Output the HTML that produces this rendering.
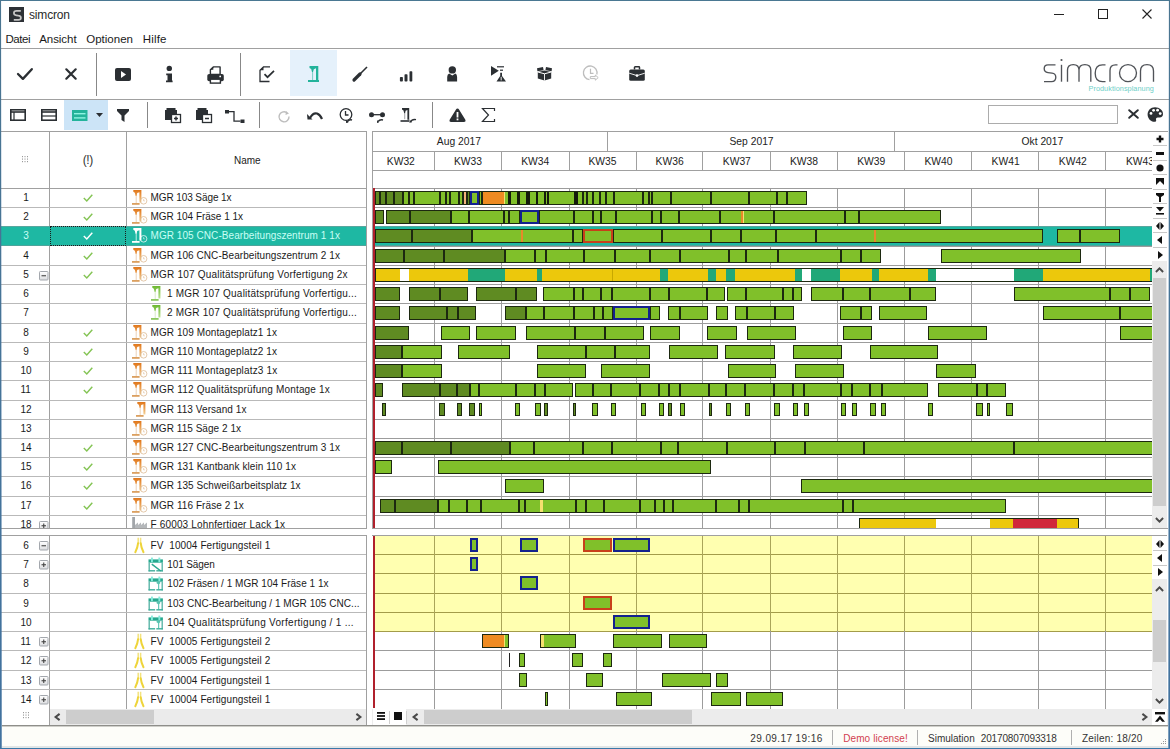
<!DOCTYPE html><html><head><meta charset="utf-8"><style>
html,body{margin:0;padding:0;}
body{width:1170px;height:749px;overflow:hidden;position:relative;background:#fff;font-family:"Liberation Sans",sans-serif;}
.t{position:absolute;white-space:nowrap;line-height:1;}
svg{overflow:visible}
</style></head><body>
<svg width="0" height="0" style="position:absolute"><defs><linearGradient id="mgo" x1="0" y1="0" x2="0" y2="1"><stop offset="0" stop-color="#e0761a"/><stop offset="0.55" stop-color="#eba255"/><stop offset="1" stop-color="#f3d49c"/></linearGradient><linearGradient id="mgg" x1="0" y1="0" x2="0" y2="1"><stop offset="0" stop-color="#6cb830"/><stop offset="1" stop-color="#b8e090"/></linearGradient></defs></svg>
<div style="position:absolute;left:9px;top:7px;width:15px;height:15px;background:#2d3136"></div>
<svg style="position:absolute;left:9px;top:7px" width="15" height="15" viewBox="0 0 15 15"><path d="M11.8 3.8H7.6Q4.9 3.8 4.9 6.1Q4.9 8.1 7.4 8.4L9.4 8.7Q11.9 9 11.9 10.9Q11.9 12.8 9.4 12.8H4.8" fill="none" stroke="#c6c6c6" stroke-width="1.7"/></svg>
<div class="t" style="left:29.00px;top:9px;font-size:12px;color:#2a2a2a;letter-spacing:-0.167px;">simcron</div>
<div style="position:absolute;left:1054px;top:14px;width:10px;height:1px;background:#222"></div>
<div style="position:absolute;left:1098px;top:9px;width:10px;height:10px;border:1px solid #222;box-sizing:border-box"></div>
<svg style="position:absolute;left:1142px;top:9px" width="10" height="10" viewBox="0 0 10 10"><path d="M0.5 0.5L9.5 9.5M9.5 0.5L0.5 9.5" stroke="#222" stroke-width="1.1"/></svg>
<div class="t" style="left:5.40px;top:33.5px;font-size:11.5px;color:#1a1a1a;letter-spacing:-0.438px;">Datei</div>
<div class="t" style="left:39.20px;top:33.5px;font-size:11.5px;color:#1a1a1a;letter-spacing:-0.053px;">Ansicht</div>
<div class="t" style="left:86.20px;top:33.5px;font-size:11.5px;color:#1a1a1a;letter-spacing:0.016px;">Optionen</div>
<div class="t" style="left:142.80px;top:33.5px;font-size:11.5px;color:#1a1a1a;letter-spacing:0.175px;">Hilfe</div>
<div style="position:absolute;left:1px;top:48px;width:1168px;height:1px;background:#a0a0a0"></div>
<div style="position:absolute;left:290px;top:50px;width:47px;height:46px;background:#e5f1fb"></div>
<div style="position:absolute;left:96px;top:53px;width:1px;height:43px;background:#888"></div>
<div style="position:absolute;left:240px;top:53px;width:1px;height:43px;background:#888"></div>
<svg style="position:absolute;left:17px;top:67px" width="16" height="14" viewBox="0 0 16 14"><path d="M1 7L5.9 11.9L14.8 2.2" fill="none" stroke="#2b2f33" stroke-width="2.3" stroke-linecap="round" stroke-linejoin="round"/></svg>
<svg style="position:absolute;left:65px;top:68px" width="12" height="12" viewBox="0 0 12 12"><path d="M1.3 1.3L10.7 10.7M10.7 1.3L1.3 10.7" fill="none" stroke="#2b2f33" stroke-width="2.2" stroke-linecap="round"/></svg>
<svg style="position:absolute;left:115px;top:68px" width="16" height="13" viewBox="0 0 16 13"><rect x="0" y="0" width="16" height="13" rx="2" fill="#2b2f33"/><path d="M6 3L11 6.5L6 10Z" fill="#fff"/></svg>
<svg style="position:absolute;left:165px;top:65px" width="9" height="18" viewBox="0 0 9 18"><circle cx="4.3" cy="3.4" r="2.7" fill="#2b2f33"/><path d="M1.2 8.5H7V15.5H7.6V17.3H1V15.5H2.5V10.2H1.2Z" fill="#2b2f33"/></svg>
<svg style="position:absolute;left:207px;top:66px" width="17" height="18" viewBox="0 0 17 18"><path d="M6.3 0.9H13.1V8.5H3.4V3.8Z" fill="#fff" stroke="#2b2f33" stroke-width="1.4" stroke-linejoin="round"/><path d="M3.4 3.8L6.3 0.9V3.8Z" fill="#2b2f33"/><rect x="0.3" y="8" width="16.5" height="7.3" rx="1.8" fill="#2b2f33"/><circle cx="13.2" cy="10.4" r="0.9" fill="#fff"/><rect x="3.4" y="13.2" width="10" height="3.9" fill="#fff" stroke="#2b2f33" stroke-width="1.4"/></svg>
<svg style="position:absolute;left:259px;top:66px" width="16" height="16" viewBox="0 0 16 16"><path d="M11 0.8H4.5L1 4.3V15.5H10.5" fill="none" stroke="#2b2f33" stroke-width="1.3"/><path d="M4.5 0.8L1 4.3H4.5Z" fill="#2b2f33"/><path d="M5.5 8.2L8.5 11.2L15 4.8" fill="none" stroke="#2b2f33" stroke-width="1.7"/></svg>
<svg style="position:absolute;left:307px;top:66px" width="13" height="16" viewBox="0 0 13 16"><path d="M2.5 0H11.3V14.5H9V2.3L6.8 3.2L6 6H5L4.2 3L2.5 2Z" fill="#23b39b"/><rect x="5" y="6" width="1.1" height="8" fill="#23b39b" opacity="0.5"/><rect x="1" y="14" width="11" height="2" fill="#23b39b"/></svg>
<svg style="position:absolute;left:352px;top:66px" width="16" height="16" viewBox="0 0 16 16"><path d="M15 1L7 9" stroke="#2b2f33" stroke-width="1.6"/><path d="M8 8L2 14" stroke="#2b2f33" stroke-width="3.2" stroke-linecap="round"/></svg>
<svg style="position:absolute;left:399px;top:71px" width="14" height="11" viewBox="0 0 14 11"><rect x="0.9" y="6" width="3" height="4.6" rx="0.8" fill="#2b2f33"/><rect x="5.5" y="3.3" width="3" height="7.3" rx="0.8" fill="#2b2f33"/><rect x="10.5" y="0.2" width="2.8" height="10.4" rx="0.8" fill="#2b2f33"/></svg>
<svg style="position:absolute;left:446px;top:65px" width="12" height="17" viewBox="0 0 12 17"><circle cx="6.3" cy="4.9" r="3.7" fill="#2b2f33"/><path d="M3.2 8.6L6.3 10.4L9.4 8.6Q11.1 9.4 11.1 12V16.6H1.2V12Q1.2 9.4 3.2 8.6Z" fill="#2b2f33"/></svg>
<svg style="position:absolute;left:490px;top:65px" width="17" height="17" viewBox="0 0 17 17"><path d="M1 1L8.8 5.8L1 10.7Z" fill="#2b2f33"/><rect x="7" y="1.2" width="7" height="1.2" fill="#2b2f33"/><rect x="10" y="4.6" width="3" height="1.2" fill="#2b2f33"/><path d="M10.2 7.8H12V11L16 16.5H6.5L10.2 11Z" fill="#2b2f33"/><rect x="10.7" y="11.8" width="0.9" height="3.6" fill="#fff"/></svg>
<svg style="position:absolute;left:537px;top:67px" width="15" height="14" viewBox="0 0 15 14"><path d="M0 1.2L6 0L6.6 3.2L0.4 4.3Z" fill="#2b2f33"/><path d="M9 0L15 1.2L14.6 4.3L8.4 3.2Z" fill="#2b2f33"/><path d="M0.8 5L7.5 3.6L14.2 5V11.6L7.5 13.6L0.8 11.6Z" fill="#2b2f33"/><path d="M0.8 5L7.5 6.8L14.2 5" fill="none" stroke="#fff" stroke-width="1"/><path d="M7.5 6.8V13.6" stroke="#fff" stroke-width="0.9"/></svg>
<svg style="position:absolute;left:583px;top:65px" width="16" height="17" viewBox="0 0 16 17"><path d="M13.8 9.5A6.8 6.8 0 1 0 6.5 14.6" fill="none" stroke="#bdbdbd" stroke-width="1.3"/><path d="M7.5 3.8V8.4H10.5" fill="none" stroke="#bdbdbd" stroke-width="1.2"/><path d="M7.3 11.6H12.3V10L15.2 12.6L12.3 15.2V13.6H7.3Z" fill="none" stroke="#bdbdbd" stroke-width="1"/></svg>
<svg style="position:absolute;left:629px;top:66px" width="16" height="15" viewBox="0 0 16 15"><path d="M5.5 3.5V1.5Q5.5 0.8 6.2 0.8H9.8Q10.5 0.8 10.5 1.5V3.5" fill="none" stroke="#2b2f33" stroke-width="1.5"/><rect x="0.2" y="3.4" width="15.6" height="11.4" rx="1.5" fill="#2b2f33"/><path d="M0.2 7.2L8 9.6L15.8 7.2" fill="none" stroke="#fff" stroke-width="0.9"/><circle cx="8" cy="9.6" r="1.3" fill="#fff"/></svg>
<svg style="position:absolute;left:1043px;top:57px" width="112" height="26" viewBox="0 0 112 26"><g fill="none" stroke="#505358" stroke-width="1.35">
<path d="M12.5 7.8H5Q1.2 7.8 1.2 11.6Q1.2 15.3 5 15.7L9 16.2Q12.8 16.7 12.8 20.3Q12.8 24.6 8.5 24.6H1"/>
<path d="M18.5 7.8V24.7"/>
<path d="M24.5 24.7V13Q24.5 7.6 30.25 7.6Q36 7.6 36 13V24.7M36 13Q36 7.6 41.9 7.6Q47.8 7.6 47.8 13V24.7"/>
<path d="M62.5 7.8H59.5Q52.2 7.8 52.2 16.2Q52.2 24.6 59.5 24.6H62.5"/>
<path d="M67 24.7V13.5Q67 7.8 72.5 7.8H74.5"/>
<circle cx="85" cy="16.1" r="8.5"/>
<path d="M97.5 24.7V14Q97.5 7.6 104 7.6Q110.5 7.6 110.5 14V24.7"/>
</g><circle cx="18.5" cy="3" r="1.1" fill="#505358"/></svg>
<div class="t" style="left:1088.5px;top:84.5px;font-size:7.3px;color:#6fd0c8;letter-spacing:0.05px">Produktionsplanung</div>
<div style="position:absolute;left:1px;top:99px;width:1168px;height:1px;background:#a0a0a0"></div>
<div style="position:absolute;left:64px;top:100px;width:44px;height:30px;background:#cce4f7"></div>
<div style="position:absolute;left:147px;top:102px;width:1px;height:26px;background:#888"></div>
<div style="position:absolute;left:259px;top:102px;width:1px;height:26px;background:#888"></div>
<div style="position:absolute;left:432px;top:102px;width:1px;height:26px;background:#888"></div>
<svg style="position:absolute;left:10px;top:109px" width="16" height="12" viewBox="0 0 16 12"><rect x="0.8" y="0.8" width="14.4" height="10.4" fill="none" stroke="#2b2f33" stroke-width="1.6"/><path d="M1 3H15" stroke="#2b2f33" stroke-width="1.6"/><path d="M4 3V11" stroke="#2b2f33" stroke-width="1.2"/></svg>
<svg style="position:absolute;left:41px;top:109px" width="16" height="12" viewBox="0 0 16 12"><rect x="0.8" y="0.8" width="14.4" height="10.4" fill="none" stroke="#2b2f33" stroke-width="1.6"/><path d="M1 3H15" stroke="#2b2f33" stroke-width="1.6"/><path d="M1 7H15" stroke="#2b2f33" stroke-width="1.2"/></svg>
<svg style="position:absolute;left:72px;top:110px" width="16" height="11" viewBox="0 0 16 11"><rect x="0" y="0" width="15.5" height="11" fill="#23b39b"/><rect x="2" y="3" width="11.5" height="1.4" fill="#8ef2e2"/><rect x="2" y="7.2" width="11.5" height="1.4" fill="#8ef2e2"/></svg>
<svg style="position:absolute;left:96px;top:113px" width="7" height="4" viewBox="0 0 7 4"><path d="M0 0H7L3.5 4Z" fill="#2b2f33"/></svg>
<svg style="position:absolute;left:117px;top:109px" width="12" height="13" viewBox="0 0 12 13"><path d="M0 0H12V2L7.5 6.5V13L4.5 11V6.5L0 2Z" fill="#2b2f33"/></svg>
<svg style="position:absolute;left:165px;top:108px" width="16" height="15" viewBox="0 0 16 15"><rect x="0" y="2" width="12" height="10" fill="#2b2f33"/><rect x="1.5" y="0" width="9" height="2" fill="#2b2f33"/><rect x="6.5" y="6.5" width="9" height="8" fill="#fff" stroke="#2b2f33" stroke-width="1.3"/><path d="M11 8.5V12.5M9 10.5H13" stroke="#2b2f33" stroke-width="1.5"/></svg>
<svg style="position:absolute;left:196px;top:108px" width="16" height="15" viewBox="0 0 16 15"><rect x="0" y="2" width="12" height="10" fill="#2b2f33"/><rect x="1.5" y="0" width="9" height="2" fill="#2b2f33"/><rect x="6.5" y="6.5" width="9" height="8" fill="#fff" stroke="#2b2f33" stroke-width="1.3"/><path d="M9 10.5H13" stroke="#2b2f33" stroke-width="1.5"/></svg>
<svg style="position:absolute;left:225px;top:110px" width="20" height="13" viewBox="0 0 20 13"><rect x="0" y="0" width="4" height="3.5" fill="#2b2f33"/><rect x="15.5" y="9.5" width="4" height="3.5" fill="#2b2f33"/><path d="M4 1.7H9V11.2H15.5" fill="none" stroke="#2b2f33" stroke-width="1.3"/></svg>
<svg style="position:absolute;left:278px;top:111px" width="14" height="11" viewBox="0 0 14 11"><path d="M11 5.5A5 5 0 1 1 8.5 1.5" fill="none" stroke="#bdbdbd" stroke-width="1.4"/><path d="M8 0L11 2.5L7.5 4Z" fill="#bdbdbd"/></svg>
<svg style="position:absolute;left:307px;top:111px" width="16" height="9" viewBox="0 0 16 9"><path d="M3 7Q6 1.5 10 2.5Q13 3.5 15 8" fill="none" stroke="#2b2f33" stroke-width="2.2"/><path d="M0 3L5.5 8.5L0.5 8.5Z" fill="#2b2f33"/></svg>
<svg style="position:absolute;left:339px;top:108px" width="16" height="15" viewBox="0 0 16 15"><circle cx="7" cy="6.5" r="5.8" fill="none" stroke="#2b2f33" stroke-width="1.3"/><path d="M6.5 3V7H9.5" fill="none" stroke="#2b2f33" stroke-width="1.3"/><path d="M8 14Q10 11 13 12" fill="none" stroke="#2b2f33" stroke-width="1.6"/><path d="M7 12L9.5 14.5L7 15Z" fill="#2b2f33"/></svg>
<svg style="position:absolute;left:369px;top:112px" width="16" height="11" viewBox="0 0 16 11"><circle cx="2.5" cy="2.7" r="2.5" fill="#2b2f33"/><circle cx="13.5" cy="2.7" r="2.5" fill="#2b2f33"/><path d="M2.5 2.7H13.5" stroke="#2b2f33" stroke-width="1.3"/><path d="M9 9.5Q11 7 14 8" fill="none" stroke="#2b2f33" stroke-width="1.4"/><path d="M8 8L10 10.5L8 11Z" fill="#2b2f33"/></svg>
<svg style="position:absolute;left:400px;top:108px" width="17" height="16" viewBox="0 0 17 16"><path d="M2 0H9.2V11.8H7.4V2L5.6 2.7L5.1 5.2H4.2L3.5 2.5L2 1.6Z" fill="#2b2f33"/><rect x="4.3" y="5.2" width="0.9" height="6" fill="#2b2f33" opacity="0.5"/><rect x="0.5" y="12.2" width="8.5" height="1.6" fill="#2b2f33"/><path d="M10.5 14Q12 10.8 16 11.6" fill="none" stroke="#2b2f33" stroke-width="1.4"/><path d="M9.6 11.6L12 14.2L9.4 14.8Z" fill="#2b2f33"/></svg>
<svg style="position:absolute;left:449px;top:108px" width="17" height="14" viewBox="0 0 17 14"><path d="M8.5 0.5Q9.5 0.5 10 1.5L16.5 12Q17 14 15 14H2Q0 14 0.5 12L7 1.5Q7.5 0.5 8.5 0.5Z" fill="#2b2f33"/><rect x="7.6" y="4" width="1.8" height="5.5" fill="#fff"/><rect x="7.6" y="10.5" width="1.8" height="1.8" fill="#fff"/></svg>
<svg style="position:absolute;left:482px;top:108px" width="13" height="14" viewBox="0 0 13 14"><path d="M12.5 3V0.5H0.5L6.5 7L0.5 13.5H12.5V11" fill="none" stroke="#2b2f33" stroke-width="1.2"/></svg>
<div style="position:absolute;left:988px;top:105px;width:130px;height:19px;border:1px solid #acacac;box-sizing:border-box;background:#fff"></div>
<svg style="position:absolute;left:1128px;top:109px" width="11" height="10" viewBox="0 0 11 10"><path d="M1.2 1.2L9.8 8.8M9.8 1.2L1.2 8.8" fill="none" stroke="#2b2f33" stroke-width="2" stroke-linecap="round"/></svg>
<svg style="position:absolute;left:1147px;top:107px" width="17" height="15" viewBox="0 0 17 15"><path d="M8 0.3C3.6 0.3 0.6 3.5 0.6 7.5C0.6 11.6 3.8 14.8 7.5 14.8C8.8 14.8 9.5 13.9 9.1 12.9C8.6 11.7 9.4 10.6 10.8 10.6H12.6C14.8 10.6 16 9 16 7C16 3.3 12.6 0.3 8 0.3Z" fill="#2b2f33"/><circle cx="4" cy="6.4" r="1.4" fill="#fff"/><circle cx="6.6" cy="3.3" r="1.4" fill="#fff"/><circle cx="10.6" cy="3.2" r="1.4" fill="#fff"/><circle cx="13.2" cy="6.6" r="1.4" fill="#fff"/></svg>
<div style="position:absolute;left:1px;top:131px;width:366px;height:1px;background:#a0a0a0"></div>
<div style="position:absolute;left:366px;top:131px;width:1px;height:398px;background:#a0a0a0"></div>
<div style="position:absolute;left:1px;top:188px;width:365px;height:1px;background:#a0a0a0"></div>
<div style="position:absolute;left:49px;top:131px;width:1px;height:397px;background:#a0a0a0"></div>
<div style="position:absolute;left:126px;top:131px;width:1px;height:397px;background:#a0a0a0"></div>
<svg style="position:absolute;left:22px;top:156px" width="7" height="7" viewBox="0 0 7 7"><rect x="0.0" y="0.0" width="1" height="1.2" fill="#9a9a9a"/><rect x="2.5" y="0.0" width="1" height="1.2" fill="#9a9a9a"/><rect x="5.0" y="0.0" width="1" height="1.2" fill="#9a9a9a"/><rect x="0.0" y="2.5" width="1" height="1.2" fill="#9a9a9a"/><rect x="2.5" y="2.5" width="1" height="1.2" fill="#9a9a9a"/><rect x="5.0" y="2.5" width="1" height="1.2" fill="#9a9a9a"/><rect x="0.0" y="5.0" width="1" height="1.2" fill="#9a9a9a"/><rect x="2.5" y="5.0" width="1" height="1.2" fill="#9a9a9a"/><rect x="5.0" y="5.0" width="1" height="1.2" fill="#9a9a9a"/></svg>
<div class="t" style="left:82.80px;top:154px;font-size:12px;color:#333;letter-spacing:-0.470px;">(!)</div>
<div class="t" style="left:234px;top:156px;font-size:10px;color:#222;">Name</div>
<div style="position:absolute;left:1px;top:226px;width:365px;height:20px;background:#1eb8a3"></div>
<div style="position:absolute;left:1px;top:226px;width:365px;height:1px;background:#58a69e"></div>
<div style="position:absolute;left:1px;top:245px;width:365px;height:1px;background:#4da49b"></div>
<div style="position:absolute;left:0;top:0;width:1170px;height:529px;overflow:hidden">
<div class="t" style="left:23.22px;top:193px;font-size:10px;color:#1a1a1a;">1</div>
<svg style="position:absolute;left:83px;top:194px" width="10" height="8" viewBox="0 0 10 8"><path d="M0.8 4L3.8 7L9.3 0.8" fill="none" stroke="#84c454" stroke-width="1.45"/></svg>
<svg style="position:absolute;left:131px;top:190px" width="16" height="16" viewBox="0 0 16 16"><path d="M2.3 0H10.4V12.5H8.4V2.2L6.2 3L5.6 6H4.6L3.8 2.8L2.3 1.8Z" fill="url(#mgo)"/><rect x="4.7" y="6" width="1" height="7" fill="#ecd2b8"/><rect x="1" y="13" width="7.6" height="1.8" fill="#dba060"/><circle cx="12.6" cy="10.8" r="3.3" fill="none" stroke="#d9b48a" stroke-width="0.9" opacity="0.8"/><path d="M12.6 9.2V10.9H13.8" fill="none" stroke="#d9b48a" stroke-width="0.7" opacity="0.8"/></svg>
<div class="t" style="left:150.50px;top:193px;font-size:10px;color:#1a1a1a;letter-spacing:-0.089px;">MGR 103 Säge 1x</div>
<div style="position:absolute;left:1px;top:207px;width:365px;height:1px;background:#b9b9b9"></div>
<div class="t" style="left:23.22px;top:212px;font-size:10px;color:#1a1a1a;">2</div>
<svg style="position:absolute;left:83px;top:213px" width="10" height="8" viewBox="0 0 10 8"><path d="M0.8 4L3.8 7L9.3 0.8" fill="none" stroke="#84c454" stroke-width="1.45"/></svg>
<svg style="position:absolute;left:131px;top:209px" width="16" height="16" viewBox="0 0 16 16"><path d="M2.3 0H10.4V12.5H8.4V2.2L6.2 3L5.6 6H4.6L3.8 2.8L2.3 1.8Z" fill="url(#mgo)"/><rect x="4.7" y="6" width="1" height="7" fill="#ecd2b8"/><rect x="1" y="13" width="7.6" height="1.8" fill="#dba060"/><circle cx="12.6" cy="10.8" r="3.3" fill="none" stroke="#d9b48a" stroke-width="0.9" opacity="0.8"/><path d="M12.6 9.2V10.9H13.8" fill="none" stroke="#d9b48a" stroke-width="0.7" opacity="0.8"/></svg>
<div class="t" style="left:150.50px;top:212px;font-size:10px;color:#1a1a1a;letter-spacing:-0.018px;">MGR 104 Fräse 1 1x</div>
<div class="t" style="left:23.22px;top:231px;font-size:10px;color:#c9fff5;">3</div>
<svg style="position:absolute;left:83px;top:232px" width="10" height="8" viewBox="0 0 10 8"><path d="M0.8 4L3.8 7L9.3 0.8" fill="none" stroke="#ffffff" stroke-width="1.45"/></svg>
<svg style="position:absolute;left:131px;top:228px" width="16" height="16" viewBox="0 0 16 16"><path d="M2.3 0H10.4V12.5H8.4V2.2L6.2 3L5.6 6H4.6L3.8 2.8L2.3 1.8Z" fill="#ffffff"/><rect x="4.7" y="6" width="1" height="7" fill="#bfeee6"/><rect x="1" y="13" width="7.6" height="1.8" fill="#ffffff"/><circle cx="12.6" cy="10.8" r="3.3" fill="none" stroke="#ffffff" stroke-width="0.9" opacity="0.8"/><path d="M12.6 9.2V10.9H13.8" fill="none" stroke="#ffffff" stroke-width="0.7" opacity="0.8"/></svg>
<div class="t" style="left:150.50px;top:231px;font-size:10px;color:#c9fff5;letter-spacing:0.060px;">MGR 105 CNC-Bearbeitungszentrum 1 1x</div>
<div class="t" style="left:23.22px;top:251px;font-size:10px;color:#1a1a1a;">4</div>
<svg style="position:absolute;left:83px;top:252px" width="10" height="8" viewBox="0 0 10 8"><path d="M0.8 4L3.8 7L9.3 0.8" fill="none" stroke="#84c454" stroke-width="1.45"/></svg>
<svg style="position:absolute;left:131px;top:248px" width="16" height="16" viewBox="0 0 16 16"><path d="M2.3 0H10.4V12.5H8.4V2.2L6.2 3L5.6 6H4.6L3.8 2.8L2.3 1.8Z" fill="url(#mgo)"/><rect x="4.7" y="6" width="1" height="7" fill="#ecd2b8"/><rect x="1" y="13" width="7.6" height="1.8" fill="#dba060"/><circle cx="12.6" cy="10.8" r="3.3" fill="none" stroke="#d9b48a" stroke-width="0.9" opacity="0.8"/><path d="M12.6 9.2V10.9H13.8" fill="none" stroke="#d9b48a" stroke-width="0.7" opacity="0.8"/></svg>
<div class="t" style="left:150.50px;top:251px;font-size:10px;color:#1a1a1a;letter-spacing:0.060px;">MGR 106 CNC-Bearbeitungszentrum 2 1x</div>
<div style="position:absolute;left:1px;top:265px;width:365px;height:1px;background:#b9b9b9"></div>
<div class="t" style="left:23.22px;top:270px;font-size:10px;color:#1a1a1a;">5</div>
<svg style="position:absolute;left:39px;top:270.5px" width="10" height="10" viewBox="0 0 10 10"><defs><linearGradient id="eg" x1="0" y1="0" x2="0" y2="1"><stop offset="0" stop-color="#ffffff"/><stop offset="1" stop-color="#dcdde0"/></linearGradient></defs><rect x="0.5" y="0.5" width="8.5" height="8.5" rx="0.8" fill="url(#eg)" stroke="#a3a7ad" stroke-width="1"/><path d="M2.5 4.75H7" stroke="#444" stroke-width="1.1"/></svg>
<svg style="position:absolute;left:83px;top:271px" width="10" height="8" viewBox="0 0 10 8"><path d="M0.8 4L3.8 7L9.3 0.8" fill="none" stroke="#84c454" stroke-width="1.45"/></svg>
<svg style="position:absolute;left:131px;top:267px" width="16" height="16" viewBox="0 0 16 16"><path d="M2.3 0H10.4V12.5H8.4V2.2L6.2 3L5.6 6H4.6L3.8 2.8L2.3 1.8Z" fill="url(#mgo)"/><rect x="4.7" y="6" width="1" height="7" fill="#ecd2b8"/><rect x="1" y="13" width="7.6" height="1.8" fill="#dba060"/><circle cx="12.6" cy="10.8" r="3.3" fill="none" stroke="#d9b48a" stroke-width="0.9" opacity="0.8"/><path d="M12.6 9.2V10.9H13.8" fill="none" stroke="#d9b48a" stroke-width="0.7" opacity="0.8"/></svg>
<div class="t" style="left:150.50px;top:270px;font-size:10px;color:#1a1a1a;letter-spacing:0.205px;">MGR 107 Qualitätsprüfung Vorfertigung 2x</div>
<div style="position:absolute;left:1px;top:284px;width:365px;height:1px;background:#b9b9b9"></div>
<div class="t" style="left:23.22px;top:289px;font-size:10px;color:#1a1a1a;">6</div>
<svg style="position:absolute;left:150px;top:286px" width="16" height="16" viewBox="0 0 16 16"><path d="M2.3 0H10.4V12.5H8.4V2.2L6.2 3L5.6 6H4.6L3.8 2.8L2.3 1.8Z" fill="url(#mgg)"/><rect x="4.7" y="6" width="1" height="7" fill="#d8ecc8"/><rect x="1" y="13" width="7.6" height="1.8" fill="#8cc860"/></svg>
<div class="t" style="left:167.00px;top:289px;font-size:10px;color:#1a1a1a;letter-spacing:0.218px;">1 MGR 107 Qualitätsprüfung Vorfertigu...</div>
<div style="position:absolute;left:1px;top:303px;width:365px;height:1px;background:#b9b9b9"></div>
<div class="t" style="left:23.22px;top:308px;font-size:10px;color:#1a1a1a;">7</div>
<svg style="position:absolute;left:150px;top:305px" width="16" height="16" viewBox="0 0 16 16"><path d="M2.3 0H10.4V12.5H8.4V2.2L6.2 3L5.6 6H4.6L3.8 2.8L2.3 1.8Z" fill="url(#mgg)"/><rect x="4.7" y="6" width="1" height="7" fill="#d8ecc8"/><rect x="1" y="13" width="7.6" height="1.8" fill="#8cc860"/></svg>
<div class="t" style="left:167.00px;top:308px;font-size:10px;color:#1a1a1a;letter-spacing:0.218px;">2 MGR 107 Qualitätsprüfung Vorfertigu...</div>
<div style="position:absolute;left:1px;top:323px;width:365px;height:1px;background:#b9b9b9"></div>
<div class="t" style="left:23.22px;top:328px;font-size:10px;color:#1a1a1a;">8</div>
<svg style="position:absolute;left:83px;top:329px" width="10" height="8" viewBox="0 0 10 8"><path d="M0.8 4L3.8 7L9.3 0.8" fill="none" stroke="#84c454" stroke-width="1.45"/></svg>
<svg style="position:absolute;left:131px;top:325px" width="16" height="16" viewBox="0 0 16 16"><path d="M2.3 0H10.4V12.5H8.4V2.2L6.2 3L5.6 6H4.6L3.8 2.8L2.3 1.8Z" fill="url(#mgo)"/><rect x="4.7" y="6" width="1" height="7" fill="#ecd2b8"/><rect x="1" y="13" width="7.6" height="1.8" fill="#dba060"/><circle cx="12.6" cy="10.8" r="3.3" fill="none" stroke="#d9b48a" stroke-width="0.9" opacity="0.8"/><path d="M12.6 9.2V10.9H13.8" fill="none" stroke="#d9b48a" stroke-width="0.7" opacity="0.8"/></svg>
<div class="t" style="left:150.50px;top:328px;font-size:10px;color:#1a1a1a;letter-spacing:0.087px;">MGR 109 Montageplatz1 1x</div>
<div style="position:absolute;left:1px;top:342px;width:365px;height:1px;background:#b9b9b9"></div>
<div class="t" style="left:23.22px;top:347px;font-size:10px;color:#1a1a1a;">9</div>
<svg style="position:absolute;left:83px;top:348px" width="10" height="8" viewBox="0 0 10 8"><path d="M0.8 4L3.8 7L9.3 0.8" fill="none" stroke="#84c454" stroke-width="1.45"/></svg>
<svg style="position:absolute;left:131px;top:344px" width="16" height="16" viewBox="0 0 16 16"><path d="M2.3 0H10.4V12.5H8.4V2.2L6.2 3L5.6 6H4.6L3.8 2.8L2.3 1.8Z" fill="url(#mgo)"/><rect x="4.7" y="6" width="1" height="7" fill="#ecd2b8"/><rect x="1" y="13" width="7.6" height="1.8" fill="#dba060"/><circle cx="12.6" cy="10.8" r="3.3" fill="none" stroke="#d9b48a" stroke-width="0.9" opacity="0.8"/><path d="M12.6 9.2V10.9H13.8" fill="none" stroke="#d9b48a" stroke-width="0.7" opacity="0.8"/></svg>
<div class="t" style="left:150.50px;top:347px;font-size:10px;color:#1a1a1a;letter-spacing:0.120px;">MGR 110 Montageplatz2 1x</div>
<div style="position:absolute;left:1px;top:361px;width:365px;height:1px;background:#b9b9b9"></div>
<div class="t" style="left:20.44px;top:366px;font-size:10px;color:#1a1a1a;">10</div>
<svg style="position:absolute;left:83px;top:367px" width="10" height="8" viewBox="0 0 10 8"><path d="M0.8 4L3.8 7L9.3 0.8" fill="none" stroke="#84c454" stroke-width="1.45"/></svg>
<svg style="position:absolute;left:131px;top:363px" width="16" height="16" viewBox="0 0 16 16"><path d="M2.3 0H10.4V12.5H8.4V2.2L6.2 3L5.6 6H4.6L3.8 2.8L2.3 1.8Z" fill="url(#mgo)"/><rect x="4.7" y="6" width="1" height="7" fill="#ecd2b8"/><rect x="1" y="13" width="7.6" height="1.8" fill="#dba060"/><circle cx="12.6" cy="10.8" r="3.3" fill="none" stroke="#d9b48a" stroke-width="0.9" opacity="0.8"/><path d="M12.6 9.2V10.9H13.8" fill="none" stroke="#d9b48a" stroke-width="0.7" opacity="0.8"/></svg>
<div class="t" style="left:150.50px;top:366px;font-size:10px;color:#1a1a1a;letter-spacing:0.159px;">MGR 111 Montageplatz3 1x</div>
<div style="position:absolute;left:1px;top:380px;width:365px;height:1px;background:#b9b9b9"></div>
<div class="t" style="left:20.44px;top:385px;font-size:10px;color:#1a1a1a;">11</div>
<svg style="position:absolute;left:83px;top:386px" width="10" height="8" viewBox="0 0 10 8"><path d="M0.8 4L3.8 7L9.3 0.8" fill="none" stroke="#84c454" stroke-width="1.45"/></svg>
<svg style="position:absolute;left:131px;top:382px" width="16" height="16" viewBox="0 0 16 16"><path d="M2.3 0H10.4V12.5H8.4V2.2L6.2 3L5.6 6H4.6L3.8 2.8L2.3 1.8Z" fill="url(#mgo)"/><rect x="4.7" y="6" width="1" height="7" fill="#ecd2b8"/><rect x="1" y="13" width="7.6" height="1.8" fill="#dba060"/><circle cx="12.6" cy="10.8" r="3.3" fill="none" stroke="#d9b48a" stroke-width="0.9" opacity="0.8"/><path d="M12.6 9.2V10.9H13.8" fill="none" stroke="#d9b48a" stroke-width="0.7" opacity="0.8"/></svg>
<div class="t" style="left:150.50px;top:385px;font-size:10px;color:#1a1a1a;letter-spacing:0.178px;">MGR 112 Qualitätsprüfung Montage 1x</div>
<div style="position:absolute;left:1px;top:400px;width:365px;height:1px;background:#b9b9b9"></div>
<div class="t" style="left:20.44px;top:405px;font-size:10px;color:#1a1a1a;">12</div>
<svg style="position:absolute;left:135px;top:402px" width="16" height="16" viewBox="0 0 16 16"><path d="M2.3 0H10.4V12.5H8.4V2.2L6.2 3L5.6 6H4.6L3.8 2.8L2.3 1.8Z" fill="url(#mgo)"/><rect x="4.7" y="6" width="1" height="7" fill="#ecd2b8"/><rect x="1" y="13" width="7.6" height="1.8" fill="#dba060"/></svg>
<div class="t" style="left:150.50px;top:405px;font-size:10px;color:#1a1a1a;letter-spacing:0.062px;">MGR 113 Versand 1x</div>
<div style="position:absolute;left:1px;top:419px;width:365px;height:1px;background:#b9b9b9"></div>
<div class="t" style="left:20.44px;top:424px;font-size:10px;color:#1a1a1a;">13</div>
<svg style="position:absolute;left:131px;top:421px" width="16" height="16" viewBox="0 0 16 16"><path d="M2.3 0H10.4V12.5H8.4V2.2L6.2 3L5.6 6H4.6L3.8 2.8L2.3 1.8Z" fill="url(#mgo)"/><rect x="4.7" y="6" width="1" height="7" fill="#ecd2b8"/><rect x="1" y="13" width="7.6" height="1.8" fill="#dba060"/><circle cx="12.6" cy="10.8" r="3.3" fill="none" stroke="#d9b48a" stroke-width="0.9" opacity="0.8"/><path d="M12.6 9.2V10.9H13.8" fill="none" stroke="#d9b48a" stroke-width="0.7" opacity="0.8"/></svg>
<div class="t" style="left:150.50px;top:424px;font-size:10px;color:#1a1a1a;letter-spacing:0.041px;">MGR 115 Säge 2 1x</div>
<div style="position:absolute;left:1px;top:438px;width:365px;height:1px;background:#b9b9b9"></div>
<div class="t" style="left:20.44px;top:443px;font-size:10px;color:#1a1a1a;">14</div>
<svg style="position:absolute;left:83px;top:444px" width="10" height="8" viewBox="0 0 10 8"><path d="M0.8 4L3.8 7L9.3 0.8" fill="none" stroke="#84c454" stroke-width="1.45"/></svg>
<svg style="position:absolute;left:131px;top:440px" width="16" height="16" viewBox="0 0 16 16"><path d="M2.3 0H10.4V12.5H8.4V2.2L6.2 3L5.6 6H4.6L3.8 2.8L2.3 1.8Z" fill="url(#mgo)"/><rect x="4.7" y="6" width="1" height="7" fill="#ecd2b8"/><rect x="1" y="13" width="7.6" height="1.8" fill="#dba060"/><circle cx="12.6" cy="10.8" r="3.3" fill="none" stroke="#d9b48a" stroke-width="0.9" opacity="0.8"/><path d="M12.6 9.2V10.9H13.8" fill="none" stroke="#d9b48a" stroke-width="0.7" opacity="0.8"/></svg>
<div class="t" style="left:150.50px;top:443px;font-size:10px;color:#1a1a1a;letter-spacing:0.060px;">MGR 127 CNC-Bearbeitungszentrum 3 1x</div>
<div style="position:absolute;left:1px;top:457px;width:365px;height:1px;background:#b9b9b9"></div>
<div class="t" style="left:20.44px;top:462px;font-size:10px;color:#1a1a1a;">15</div>
<svg style="position:absolute;left:83px;top:463px" width="10" height="8" viewBox="0 0 10 8"><path d="M0.8 4L3.8 7L9.3 0.8" fill="none" stroke="#84c454" stroke-width="1.45"/></svg>
<svg style="position:absolute;left:131px;top:459px" width="16" height="16" viewBox="0 0 16 16"><path d="M2.3 0H10.4V12.5H8.4V2.2L6.2 3L5.6 6H4.6L3.8 2.8L2.3 1.8Z" fill="url(#mgo)"/><rect x="4.7" y="6" width="1" height="7" fill="#ecd2b8"/><rect x="1" y="13" width="7.6" height="1.8" fill="#dba060"/><circle cx="12.6" cy="10.8" r="3.3" fill="none" stroke="#d9b48a" stroke-width="0.9" opacity="0.8"/><path d="M12.6 9.2V10.9H13.8" fill="none" stroke="#d9b48a" stroke-width="0.7" opacity="0.8"/></svg>
<div class="t" style="left:150.50px;top:462px;font-size:10px;color:#1a1a1a;letter-spacing:0.077px;">MGR 131 Kantbank klein 110 1x</div>
<div style="position:absolute;left:1px;top:476px;width:365px;height:1px;background:#b9b9b9"></div>
<div class="t" style="left:20.44px;top:481px;font-size:10px;color:#1a1a1a;">16</div>
<svg style="position:absolute;left:83px;top:482px" width="10" height="8" viewBox="0 0 10 8"><path d="M0.8 4L3.8 7L9.3 0.8" fill="none" stroke="#84c454" stroke-width="1.45"/></svg>
<svg style="position:absolute;left:131px;top:478px" width="16" height="16" viewBox="0 0 16 16"><path d="M2.3 0H10.4V12.5H8.4V2.2L6.2 3L5.6 6H4.6L3.8 2.8L2.3 1.8Z" fill="url(#mgo)"/><rect x="4.7" y="6" width="1" height="7" fill="#ecd2b8"/><rect x="1" y="13" width="7.6" height="1.8" fill="#dba060"/><circle cx="12.6" cy="10.8" r="3.3" fill="none" stroke="#d9b48a" stroke-width="0.9" opacity="0.8"/><path d="M12.6 9.2V10.9H13.8" fill="none" stroke="#d9b48a" stroke-width="0.7" opacity="0.8"/></svg>
<div class="t" style="left:150.50px;top:481px;font-size:10px;color:#1a1a1a;letter-spacing:0.059px;">MGR 135 Schweißarbeitsplatz 1x</div>
<div style="position:absolute;left:1px;top:496px;width:365px;height:1px;background:#b9b9b9"></div>
<div class="t" style="left:20.44px;top:501px;font-size:10px;color:#1a1a1a;">17</div>
<svg style="position:absolute;left:83px;top:502px" width="10" height="8" viewBox="0 0 10 8"><path d="M0.8 4L3.8 7L9.3 0.8" fill="none" stroke="#84c454" stroke-width="1.45"/></svg>
<svg style="position:absolute;left:131px;top:498px" width="16" height="16" viewBox="0 0 16 16"><path d="M2.3 0H10.4V12.5H8.4V2.2L6.2 3L5.6 6H4.6L3.8 2.8L2.3 1.8Z" fill="url(#mgo)"/><rect x="4.7" y="6" width="1" height="7" fill="#ecd2b8"/><rect x="1" y="13" width="7.6" height="1.8" fill="#dba060"/><circle cx="12.6" cy="10.8" r="3.3" fill="none" stroke="#d9b48a" stroke-width="0.9" opacity="0.8"/><path d="M12.6 9.2V10.9H13.8" fill="none" stroke="#d9b48a" stroke-width="0.7" opacity="0.8"/></svg>
<div class="t" style="left:150.50px;top:501px;font-size:10px;color:#1a1a1a;letter-spacing:0.074px;">MGR 116 Fräse 2 1x</div>
<div style="position:absolute;left:1px;top:515px;width:365px;height:1px;background:#b9b9b9"></div>
<div class="t" style="left:20.44px;top:520px;font-size:10px;color:#1a1a1a;">18</div>
<svg style="position:absolute;left:39px;top:520.5px" width="10" height="10" viewBox="0 0 10 10"><defs><linearGradient id="eg" x1="0" y1="0" x2="0" y2="1"><stop offset="0" stop-color="#ffffff"/><stop offset="1" stop-color="#dcdde0"/></linearGradient></defs><rect x="0.5" y="0.5" width="8.5" height="8.5" rx="0.8" fill="url(#eg)" stroke="#a3a7ad" stroke-width="1"/><path d="M2.5 4.75H7" stroke="#444" stroke-width="1.1"/><path d="M4.75 2.5V7" stroke="#444" stroke-width="1.1"/></svg>
<svg style="position:absolute;left:131px;top:517px" width="17" height="12" viewBox="0 0 17 12"><rect x="1.2" y="0" width="2.8" height="11.5" fill="#a2a6aa"/><path d="M4 11.5V8L7 5.5V8L10 5.5V8L13 5.5V8L16 5.5V11.5Z" fill="#a2a6aa" opacity="0.8"/></svg>
<div class="t" style="left:150.50px;top:520px;font-size:10px;color:#1a1a1a;letter-spacing:0.163px;">F 60003 Lohnfertiger Lack 1x</div>
<div style="position:absolute;left:50px;top:226px;width:76px;height:20px;border:1px dotted #1a1a1a;box-sizing:border-box"></div>
</div>
<div style="position:absolute;left:1px;top:528px;width:366px;height:1px;background:#a0a0a0"></div>
<div style="position:absolute;left:1px;top:535px;width:366px;height:1px;background:#a0a0a0"></div>
<div style="position:absolute;left:366px;top:535px;width:1px;height:190px;background:#a0a0a0"></div>
<div style="position:absolute;left:49px;top:535px;width:1px;height:190px;background:#a0a0a0"></div>
<div style="position:absolute;left:126px;top:535px;width:1px;height:174px;background:#a0a0a0"></div>
<div class="t" style="left:23.22px;top:541px;font-size:10px;color:#1a1a1a;">6</div>
<svg style="position:absolute;left:39px;top:541px" width="10" height="10" viewBox="0 0 10 10"><defs><linearGradient id="eg" x1="0" y1="0" x2="0" y2="1"><stop offset="0" stop-color="#ffffff"/><stop offset="1" stop-color="#dcdde0"/></linearGradient></defs><rect x="0.5" y="0.5" width="8.5" height="8.5" rx="0.8" fill="url(#eg)" stroke="#a3a7ad" stroke-width="1"/><path d="M2.5 4.75H7" stroke="#444" stroke-width="1.1"/></svg>
<svg style="position:absolute;left:133px;top:537px" width="12" height="16" viewBox="0 0 12 16"><path d="M5.2 0.8V7M7.6 0.8V7" stroke="#eed43a" stroke-width="1.5" opacity="0.65"/><path d="M5.1 6.2Q4.6 11 2.3 15.2M7.7 6.2Q8.2 11 10.5 15.2" fill="none" stroke="#eed43a" stroke-width="2" stroke-linecap="round"/></svg>
<div class="t" style="left:150.50px;top:541px;font-size:10px;color:#1a1a1a;letter-spacing:0.096px;">FV&nbsp;&nbsp;10004 Fertigungsteil 1</div>
<div style="position:absolute;left:1px;top:554px;width:365px;height:1px;background:#b9b9b9"></div>
<div class="t" style="left:23.22px;top:560px;font-size:10px;color:#1a1a1a;">7</div>
<svg style="position:absolute;left:39px;top:560px" width="10" height="10" viewBox="0 0 10 10"><defs><linearGradient id="eg" x1="0" y1="0" x2="0" y2="1"><stop offset="0" stop-color="#ffffff"/><stop offset="1" stop-color="#dcdde0"/></linearGradient></defs><rect x="0.5" y="0.5" width="8.5" height="8.5" rx="0.8" fill="url(#eg)" stroke="#a3a7ad" stroke-width="1"/><path d="M2.5 4.75H7" stroke="#444" stroke-width="1.1"/><path d="M4.75 2.5V7" stroke="#444" stroke-width="1.1"/></svg>
<svg style="position:absolute;left:147.5px;top:557px" width="15" height="15" viewBox="0 0 15 15"><rect x="0.5" y="2.4" width="14.4" height="3.3" fill="#27a88f"/><rect x="3" y="0.6" width="1.9" height="4.6" fill="#86eadb"/><rect x="10.4" y="0.6" width="1.9" height="4.6" fill="#86eadb"/><rect x="0.5" y="5.7" width="1.4" height="8.7" fill="#5cb5a8"/><rect x="13.5" y="5.7" width="1.4" height="8.7" fill="#5cb5a8"/><rect x="0.5" y="13.1" width="6.6" height="1.4" fill="#3fae9c"/><rect x="8.3" y="13.1" width="6.6" height="1.4" fill="#3fae9c"/><path d="M3.8 7.2L12.8 14" stroke="#2aa890" stroke-width="1.5"/></svg>
<div class="t" style="left:167.30px;top:560px;font-size:10px;color:#1a1a1a;letter-spacing:-0.113px;">101 Sägen</div>
<div style="position:absolute;left:1px;top:573px;width:365px;height:1px;background:#b9b9b9"></div>
<div class="t" style="left:23.22px;top:579px;font-size:10px;color:#1a1a1a;">8</div>
<svg style="position:absolute;left:147.5px;top:576px" width="15" height="15" viewBox="0 0 15 15"><rect x="0.5" y="2.4" width="14.4" height="3.3" fill="#27a88f"/><rect x="3" y="0.6" width="1.9" height="4.6" fill="#86eadb"/><rect x="10.4" y="0.6" width="1.9" height="4.6" fill="#86eadb"/><rect x="0.5" y="5.7" width="1.4" height="8.7" fill="#5cb5a8"/><rect x="13.5" y="5.7" width="1.4" height="8.7" fill="#5cb5a8"/><rect x="0.5" y="13.1" width="6.6" height="1.4" fill="#3fae9c"/><rect x="8.3" y="13.1" width="6.6" height="1.4" fill="#3fae9c"/><path d="M8.6 5.7H12.2V7.3L11.2 8.3V13.5H10.1V8.3L8.6 7.2Z" fill="#3cb9a2" opacity="0.85"/></svg>
<div class="t" style="left:167.30px;top:579px;font-size:10px;color:#1a1a1a;letter-spacing:0.037px;">102 Fräsen / 1 MGR 104 Fräse 1 1x</div>
<div style="position:absolute;left:1px;top:593px;width:365px;height:1px;background:#b9b9b9"></div>
<div class="t" style="left:23.22px;top:599px;font-size:10px;color:#1a1a1a;">9</div>
<svg style="position:absolute;left:147.5px;top:596px" width="15" height="15" viewBox="0 0 15 15"><rect x="0.5" y="2.4" width="14.4" height="3.3" fill="#27a88f"/><rect x="3" y="0.6" width="1.9" height="4.6" fill="#86eadb"/><rect x="10.4" y="0.6" width="1.9" height="4.6" fill="#86eadb"/><rect x="0.5" y="5.7" width="1.4" height="8.7" fill="#5cb5a8"/><rect x="13.5" y="5.7" width="1.4" height="8.7" fill="#5cb5a8"/><rect x="0.5" y="13.1" width="6.6" height="1.4" fill="#3fae9c"/><rect x="8.3" y="13.1" width="6.6" height="1.4" fill="#3fae9c"/><path d="M8.6 5.7H12.2V7.3L11.2 8.3V13.5H10.1V8.3L8.6 7.2Z" fill="#3cb9a2" opacity="0.85"/></svg>
<div class="t" style="left:167.30px;top:599px;font-size:10px;color:#1a1a1a;letter-spacing:0.042px;">103 CNC-Bearbeitung / 1 MGR 105 CNC...</div>
<div style="position:absolute;left:1px;top:612px;width:365px;height:1px;background:#b9b9b9"></div>
<div class="t" style="left:20.44px;top:618px;font-size:10px;color:#1a1a1a;">10</div>
<svg style="position:absolute;left:147.5px;top:615px" width="15" height="15" viewBox="0 0 15 15"><rect x="0.5" y="2.4" width="14.4" height="3.3" fill="#27a88f"/><rect x="3" y="0.6" width="1.9" height="4.6" fill="#86eadb"/><rect x="10.4" y="0.6" width="1.9" height="4.6" fill="#86eadb"/><rect x="0.5" y="5.7" width="1.4" height="8.7" fill="#5cb5a8"/><rect x="13.5" y="5.7" width="1.4" height="8.7" fill="#5cb5a8"/><rect x="0.5" y="13.1" width="6.6" height="1.4" fill="#3fae9c"/><rect x="8.3" y="13.1" width="6.6" height="1.4" fill="#3fae9c"/><path d="M8.6 5.7H12.2V7.3L11.2 8.3V13.5H10.1V8.3L8.6 7.2Z" fill="#3cb9a2" opacity="0.85"/></svg>
<div class="t" style="left:167.30px;top:618px;font-size:10px;color:#1a1a1a;letter-spacing:0.294px;">104 Qualitätsprüfung Vorfertigung / 1 ...</div>
<div style="position:absolute;left:1px;top:631px;width:365px;height:1px;background:#b9b9b9"></div>
<div class="t" style="left:20.44px;top:637px;font-size:10px;color:#1a1a1a;">11</div>
<svg style="position:absolute;left:39px;top:637px" width="10" height="10" viewBox="0 0 10 10"><defs><linearGradient id="eg" x1="0" y1="0" x2="0" y2="1"><stop offset="0" stop-color="#ffffff"/><stop offset="1" stop-color="#dcdde0"/></linearGradient></defs><rect x="0.5" y="0.5" width="8.5" height="8.5" rx="0.8" fill="url(#eg)" stroke="#a3a7ad" stroke-width="1"/><path d="M2.5 4.75H7" stroke="#444" stroke-width="1.1"/><path d="M4.75 2.5V7" stroke="#444" stroke-width="1.1"/></svg>
<svg style="position:absolute;left:133px;top:633px" width="12" height="16" viewBox="0 0 12 16"><path d="M5.2 0.8V7M7.6 0.8V7" stroke="#eed43a" stroke-width="1.5" opacity="0.65"/><path d="M5.1 6.2Q4.6 11 2.3 15.2M7.7 6.2Q8.2 11 10.5 15.2" fill="none" stroke="#eed43a" stroke-width="2" stroke-linecap="round"/></svg>
<div class="t" style="left:150.50px;top:637px;font-size:10px;color:#1a1a1a;letter-spacing:0.096px;">FV&nbsp;&nbsp;10005 Fertigungsteil 2</div>
<div style="position:absolute;left:1px;top:650px;width:365px;height:1px;background:#b9b9b9"></div>
<div class="t" style="left:20.44px;top:656px;font-size:10px;color:#1a1a1a;">12</div>
<svg style="position:absolute;left:39px;top:656px" width="10" height="10" viewBox="0 0 10 10"><defs><linearGradient id="eg" x1="0" y1="0" x2="0" y2="1"><stop offset="0" stop-color="#ffffff"/><stop offset="1" stop-color="#dcdde0"/></linearGradient></defs><rect x="0.5" y="0.5" width="8.5" height="8.5" rx="0.8" fill="url(#eg)" stroke="#a3a7ad" stroke-width="1"/><path d="M2.5 4.75H7" stroke="#444" stroke-width="1.1"/><path d="M4.75 2.5V7" stroke="#444" stroke-width="1.1"/></svg>
<svg style="position:absolute;left:133px;top:652px" width="12" height="16" viewBox="0 0 12 16"><path d="M5.2 0.8V7M7.6 0.8V7" stroke="#eed43a" stroke-width="1.5" opacity="0.65"/><path d="M5.1 6.2Q4.6 11 2.3 15.2M7.7 6.2Q8.2 11 10.5 15.2" fill="none" stroke="#eed43a" stroke-width="2" stroke-linecap="round"/></svg>
<div class="t" style="left:150.50px;top:656px;font-size:10px;color:#1a1a1a;letter-spacing:0.096px;">FV&nbsp;&nbsp;10005 Fertigungsteil 2</div>
<div style="position:absolute;left:1px;top:670px;width:365px;height:1px;background:#b9b9b9"></div>
<div class="t" style="left:20.44px;top:676px;font-size:10px;color:#1a1a1a;">13</div>
<svg style="position:absolute;left:39px;top:676px" width="10" height="10" viewBox="0 0 10 10"><defs><linearGradient id="eg" x1="0" y1="0" x2="0" y2="1"><stop offset="0" stop-color="#ffffff"/><stop offset="1" stop-color="#dcdde0"/></linearGradient></defs><rect x="0.5" y="0.5" width="8.5" height="8.5" rx="0.8" fill="url(#eg)" stroke="#a3a7ad" stroke-width="1"/><path d="M2.5 4.75H7" stroke="#444" stroke-width="1.1"/><path d="M4.75 2.5V7" stroke="#444" stroke-width="1.1"/></svg>
<svg style="position:absolute;left:133px;top:672px" width="12" height="16" viewBox="0 0 12 16"><path d="M5.2 0.8V7M7.6 0.8V7" stroke="#eed43a" stroke-width="1.5" opacity="0.65"/><path d="M5.1 6.2Q4.6 11 2.3 15.2M7.7 6.2Q8.2 11 10.5 15.2" fill="none" stroke="#eed43a" stroke-width="2" stroke-linecap="round"/></svg>
<div class="t" style="left:150.50px;top:676px;font-size:10px;color:#1a1a1a;letter-spacing:0.096px;">FV&nbsp;&nbsp;10004 Fertigungsteil 1</div>
<div style="position:absolute;left:1px;top:689px;width:365px;height:1px;background:#b9b9b9"></div>
<div class="t" style="left:20.44px;top:695px;font-size:10px;color:#1a1a1a;">14</div>
<svg style="position:absolute;left:39px;top:695px" width="10" height="10" viewBox="0 0 10 10"><defs><linearGradient id="eg" x1="0" y1="0" x2="0" y2="1"><stop offset="0" stop-color="#ffffff"/><stop offset="1" stop-color="#dcdde0"/></linearGradient></defs><rect x="0.5" y="0.5" width="8.5" height="8.5" rx="0.8" fill="url(#eg)" stroke="#a3a7ad" stroke-width="1"/><path d="M2.5 4.75H7" stroke="#444" stroke-width="1.1"/><path d="M4.75 2.5V7" stroke="#444" stroke-width="1.1"/></svg>
<svg style="position:absolute;left:133px;top:691px" width="12" height="16" viewBox="0 0 12 16"><path d="M5.2 0.8V7M7.6 0.8V7" stroke="#eed43a" stroke-width="1.5" opacity="0.65"/><path d="M5.1 6.2Q4.6 11 2.3 15.2M7.7 6.2Q8.2 11 10.5 15.2" fill="none" stroke="#eed43a" stroke-width="2" stroke-linecap="round"/></svg>
<div class="t" style="left:150.50px;top:695px;font-size:10px;color:#1a1a1a;letter-spacing:0.096px;">FV&nbsp;&nbsp;10004 Fertigungsteil 1</div>
<div style="position:absolute;left:1px;top:709px;width:48px;height:16px;background:#fff"></div>
<svg style="position:absolute;left:23px;top:712px" width="7" height="7" viewBox="0 0 7 7"><rect x="0.0" y="0.0" width="1" height="1.2" fill="#9a9a9a"/><rect x="2.5" y="0.0" width="1" height="1.2" fill="#9a9a9a"/><rect x="5.0" y="0.0" width="1" height="1.2" fill="#9a9a9a"/><rect x="0.0" y="2.5" width="1" height="1.2" fill="#9a9a9a"/><rect x="2.5" y="2.5" width="1" height="1.2" fill="#9a9a9a"/><rect x="5.0" y="2.5" width="1" height="1.2" fill="#9a9a9a"/><rect x="0.0" y="5.0" width="1" height="1.2" fill="#9a9a9a"/><rect x="2.5" y="5.0" width="1" height="1.2" fill="#9a9a9a"/><rect x="5.0" y="5.0" width="1" height="1.2" fill="#9a9a9a"/></svg>
<div style="position:absolute;left:50px;top:709px;width:316px;height:16px;background:#ebebeb"></div>
<div style="position:absolute;left:66px;top:710px;width:88px;height:14px;background:#cdcdcd"></div>
<svg style="position:absolute;left:54px;top:712.5px" width="7" height="8" viewBox="0 0 7 8"><path d="M5.6 0.9L1.6 4L5.6 7.1" fill="none" stroke="#4a4a4a" stroke-width="2"/></svg>
<svg style="position:absolute;left:355px;top:712.5px" width="7" height="8" viewBox="0 0 7 8"><path d="M1.4 0.9L5.4 4L1.4 7.1" fill="none" stroke="#4a4a4a" stroke-width="2"/></svg>
<div style="position:absolute;left:372px;top:131px;width:780px;height:1px;background:#a0a0a0"></div>
<div style="position:absolute;left:372px;top:131px;width:1px;height:398px;background:#a0a0a0"></div>
<div style="position:absolute;left:372px;top:151px;width:780px;height:1px;background:#a0a0a0"></div>
<div style="position:absolute;left:372px;top:170px;width:780px;height:1px;background:#a0a0a0"></div>
<div style="position:absolute;left:607px;top:131px;width:1px;height:20px;background:#a0a0a0"></div>
<div style="position:absolute;left:894px;top:131px;width:1px;height:20px;background:#a0a0a0"></div>
<div class="t" style="left:436.8px;top:137px;font-size:10.3px;color:#222;">Aug 2017</div>
<div class="t" style="left:729.5px;top:137px;font-size:10.3px;color:#222;">Sep 2017</div>
<div class="t" style="left:1021.5px;top:137px;font-size:10.3px;color:#222;">Okt 2017</div>
<div class="t" style="left:386.8px;top:156.5px;font-size:10.3px;color:#222;">KW32</div>
<div style="position:absolute;left:434px;top:151px;width:1px;height:19px;background:#a0a0a0"></div>
<div class="t" style="left:454.0px;top:156.5px;font-size:10.3px;color:#222;">KW33</div>
<div style="position:absolute;left:501px;top:151px;width:1px;height:19px;background:#a0a0a0"></div>
<div class="t" style="left:521.2px;top:156.5px;font-size:10.3px;color:#222;">KW34</div>
<div style="position:absolute;left:569px;top:151px;width:1px;height:19px;background:#a0a0a0"></div>
<div class="t" style="left:588.4000000000001px;top:156.5px;font-size:10.3px;color:#222;">KW35</div>
<div style="position:absolute;left:636px;top:151px;width:1px;height:19px;background:#a0a0a0"></div>
<div class="t" style="left:655.6px;top:156.5px;font-size:10.3px;color:#222;">KW36</div>
<div style="position:absolute;left:702px;top:151px;width:1px;height:19px;background:#a0a0a0"></div>
<div class="t" style="left:722.8000000000001px;top:156.5px;font-size:10.3px;color:#222;">KW37</div>
<div style="position:absolute;left:770px;top:151px;width:1px;height:19px;background:#a0a0a0"></div>
<div class="t" style="left:790.0000000000001px;top:156.5px;font-size:10.3px;color:#222;">KW38</div>
<div style="position:absolute;left:837px;top:151px;width:1px;height:19px;background:#a0a0a0"></div>
<div class="t" style="left:857.2000000000002px;top:156.5px;font-size:10.3px;color:#222;">KW39</div>
<div style="position:absolute;left:904px;top:151px;width:1px;height:19px;background:#a0a0a0"></div>
<div class="t" style="left:924.4000000000001px;top:156.5px;font-size:10.3px;color:#222;">KW40</div>
<div style="position:absolute;left:971px;top:151px;width:1px;height:19px;background:#a0a0a0"></div>
<div class="t" style="left:991.6px;top:156.5px;font-size:10.3px;color:#222;">KW41</div>
<div style="position:absolute;left:1038px;top:151px;width:1px;height:19px;background:#a0a0a0"></div>
<div class="t" style="left:1058.8px;top:156.5px;font-size:10.3px;color:#222;">KW42</div>
<div style="position:absolute;left:1105px;top:151px;width:1px;height:19px;background:#a0a0a0"></div>
<div class="t" style="left:1126.0px;top:156.5px;font-size:10.3px;color:#222;">KW43</div>
<div style="position:absolute;left:1152px;top:132px;width:16px;height:397px;background:#fff"></div>
<div style="position:absolute;left:1152px;top:131px;width:16px;height:1px;background:#a0a0a0"></div>
<div style="position:absolute;left:0;top:0;width:1152px;height:528px;overflow:hidden">
<div style="position:absolute;left:434px;top:188px;width:1px;height:340px;background:#9c9c9c"></div>
<div style="position:absolute;left:501px;top:188px;width:1px;height:340px;background:#9c9c9c"></div>
<div style="position:absolute;left:569px;top:188px;width:1px;height:340px;background:#9c9c9c"></div>
<div style="position:absolute;left:636px;top:188px;width:1px;height:340px;background:#9c9c9c"></div>
<div style="position:absolute;left:702px;top:188px;width:1px;height:340px;background:#9c9c9c"></div>
<div style="position:absolute;left:770px;top:188px;width:1px;height:340px;background:#9c9c9c"></div>
<div style="position:absolute;left:837px;top:188px;width:1px;height:340px;background:#9c9c9c"></div>
<div style="position:absolute;left:904px;top:188px;width:1px;height:340px;background:#9c9c9c"></div>
<div style="position:absolute;left:971px;top:188px;width:1px;height:340px;background:#9c9c9c"></div>
<div style="position:absolute;left:1038px;top:188px;width:1px;height:340px;background:#9c9c9c"></div>
<div style="position:absolute;left:1105px;top:188px;width:1px;height:340px;background:#9c9c9c"></div>
<div style="position:absolute;left:373px;top:188px;width:779px;height:1px;background:#9c9c9c"></div>
<div style="position:absolute;left:373px;top:207px;width:779px;height:1px;background:#9c9c9c"></div>
<div style="position:absolute;left:373px;top:226px;width:779px;height:1px;background:#9c9c9c"></div>
<div style="position:absolute;left:373px;top:246px;width:779px;height:1px;background:#9c9c9c"></div>
<div style="position:absolute;left:373px;top:265px;width:779px;height:1px;background:#9c9c9c"></div>
<div style="position:absolute;left:373px;top:284px;width:779px;height:1px;background:#9c9c9c"></div>
<div style="position:absolute;left:373px;top:303px;width:779px;height:1px;background:#9c9c9c"></div>
<div style="position:absolute;left:373px;top:323px;width:779px;height:1px;background:#9c9c9c"></div>
<div style="position:absolute;left:373px;top:342px;width:779px;height:1px;background:#9c9c9c"></div>
<div style="position:absolute;left:373px;top:361px;width:779px;height:1px;background:#9c9c9c"></div>
<div style="position:absolute;left:373px;top:380px;width:779px;height:1px;background:#9c9c9c"></div>
<div style="position:absolute;left:373px;top:400px;width:779px;height:1px;background:#9c9c9c"></div>
<div style="position:absolute;left:373px;top:419px;width:779px;height:1px;background:#9c9c9c"></div>
<div style="position:absolute;left:373px;top:438px;width:779px;height:1px;background:#9c9c9c"></div>
<div style="position:absolute;left:373px;top:457px;width:779px;height:1px;background:#9c9c9c"></div>
<div style="position:absolute;left:373px;top:476px;width:779px;height:1px;background:#9c9c9c"></div>
<div style="position:absolute;left:373px;top:496px;width:779px;height:1px;background:#9c9c9c"></div>
<div style="position:absolute;left:373px;top:515px;width:779px;height:1px;background:#9c9c9c"></div>
<div style="position:absolute;left:373px;top:226px;width:779px;height:20px;background:#1eb8a3"></div>
<div style="position:absolute;left:373px;top:226px;width:779px;height:1px;background:#58a69e"></div>
<div style="position:absolute;left:373px;top:245px;width:779px;height:1px;background:#4da49b"></div>
<div style="position:absolute;left:375px;top:191px;width:5px;height:14px;background:#5f8b22"></div>
<div style="position:absolute;left:380px;top:191px;width:6px;height:14px;background:#5f8b22"></div>
<div style="position:absolute;left:386px;top:191px;width:8px;height:14px;background:#5f8b22"></div>
<div style="position:absolute;left:394px;top:191px;width:9px;height:14px;background:#5f8b22"></div>
<div style="position:absolute;left:403px;top:191px;width:6px;height:14px;background:#80c02a"></div>
<div style="position:absolute;left:409px;top:191px;width:5px;height:14px;background:#80c02a"></div>
<div style="position:absolute;left:414px;top:191px;width:26px;height:14px;background:#80c02a"></div>
<div style="position:absolute;left:440px;top:191px;width:6px;height:14px;background:#80c02a"></div>
<div style="position:absolute;left:446px;top:191px;width:4px;height:14px;background:#80c02a"></div>
<div style="position:absolute;left:450px;top:191px;width:9px;height:14px;background:#80c02a"></div>
<div style="position:absolute;left:459px;top:191px;width:4px;height:14px;background:#80c02a"></div>
<div style="position:absolute;left:463px;top:191px;width:4px;height:14px;background:#f2b27a"></div>
<div style="position:absolute;left:467px;top:191px;width:3px;height:14px;background:#5f8b22"></div>
<div style="position:absolute;left:479px;top:191px;width:3px;height:14px;background:#80c02a"></div>
<div style="position:absolute;left:482px;top:191px;width:22px;height:14px;background:#ee8b22"></div>
<div style="position:absolute;left:504px;top:191px;width:1px;height:14px;background:#f5e070"></div>
<div style="position:absolute;left:505px;top:191px;width:3px;height:14px;background:#80c02a"></div>
<div style="position:absolute;left:508px;top:191px;width:3px;height:14px;background:#141a0c"></div>
<div style="position:absolute;left:511px;top:191px;width:6px;height:14px;background:#80c02a"></div>
<div style="position:absolute;left:517px;top:191px;width:3px;height:14px;background:#141a0c"></div>
<div style="position:absolute;left:520px;top:191px;width:6px;height:14px;background:#80c02a"></div>
<div style="position:absolute;left:526px;top:191px;width:4px;height:14px;background:#141a0c"></div>
<div style="position:absolute;left:530px;top:191px;width:6px;height:14px;background:#80c02a"></div>
<div style="position:absolute;left:536px;top:191px;width:2px;height:14px;background:#141a0c"></div>
<div style="position:absolute;left:538px;top:191px;width:6px;height:14px;background:#80c02a"></div>
<div style="position:absolute;left:544px;top:191px;width:2px;height:14px;background:#141a0c"></div>
<div style="position:absolute;left:546px;top:191px;width:1px;height:14px;background:#80c02a"></div>
<div style="position:absolute;left:547px;top:191px;width:2px;height:14px;background:#141a0c"></div>
<div style="position:absolute;left:549px;top:191px;width:25px;height:14px;background:#80c02a"></div>
<div style="position:absolute;left:574px;top:191px;width:4px;height:14px;background:#141a0c"></div>
<div style="position:absolute;left:578px;top:191px;width:5px;height:14px;background:#80c02a"></div>
<div style="position:absolute;left:583px;top:191px;width:4px;height:14px;background:#80c02a"></div>
<div style="position:absolute;left:587px;top:191px;width:6px;height:14px;background:#80c02a"></div>
<div style="position:absolute;left:593px;top:191px;width:7px;height:14px;background:#80c02a"></div>
<div style="position:absolute;left:600px;top:191px;width:6px;height:14px;background:#80c02a"></div>
<div style="position:absolute;left:606px;top:191px;width:8px;height:14px;background:#80c02a"></div>
<div style="position:absolute;left:614px;top:191px;width:29px;height:14px;background:#80c02a"></div>
<div style="position:absolute;left:643px;top:191px;width:6px;height:14px;background:#80c02a"></div>
<div style="position:absolute;left:649px;top:191px;width:3px;height:14px;background:#80c02a"></div>
<div style="position:absolute;left:652px;top:191px;width:19px;height:14px;background:#80c02a"></div>
<div style="position:absolute;left:671px;top:191px;width:40px;height:14px;background:#80c02a"></div>
<div style="position:absolute;left:711px;top:191px;width:38px;height:14px;background:#80c02a"></div>
<div style="position:absolute;left:749px;top:191px;width:28px;height:14px;background:#80c02a"></div>
<div style="position:absolute;left:777px;top:191px;width:10px;height:14px;background:#80c02a"></div>
<div style="position:absolute;left:787px;top:191px;width:20px;height:14px;background:#80c02a"></div>
<div style="position:absolute;left:375px;top:191px;width:432px;height:14px;border:1px solid #1c2810;box-sizing:border-box"></div>
<div style="position:absolute;left:379px;top:191px;width:2px;height:14px;background:#1c2810"></div>
<div style="position:absolute;left:385px;top:191px;width:2px;height:14px;background:#1c2810"></div>
<div style="position:absolute;left:393px;top:191px;width:2px;height:14px;background:#1c2810"></div>
<div style="position:absolute;left:402px;top:191px;width:2px;height:14px;background:#1c2810"></div>
<div style="position:absolute;left:408px;top:191px;width:2px;height:14px;background:#1c2810"></div>
<div style="position:absolute;left:413px;top:191px;width:2px;height:14px;background:#1c2810"></div>
<div style="position:absolute;left:439px;top:191px;width:2px;height:14px;background:#1c2810"></div>
<div style="position:absolute;left:445px;top:191px;width:2px;height:14px;background:#1c2810"></div>
<div style="position:absolute;left:449px;top:191px;width:2px;height:14px;background:#1c2810"></div>
<div style="position:absolute;left:458px;top:191px;width:2px;height:14px;background:#1c2810"></div>
<div style="position:absolute;left:462px;top:191px;width:2px;height:14px;background:#1c2810"></div>
<div style="position:absolute;left:466px;top:191px;width:2px;height:14px;background:#1c2810"></div>
<div style="position:absolute;left:469px;top:191px;width:2px;height:14px;background:#1c2810"></div>
<div style="position:absolute;left:478px;top:191px;width:2px;height:14px;background:#1c2810"></div>
<div style="position:absolute;left:481px;top:191px;width:2px;height:14px;background:#1c2810"></div>
<div style="position:absolute;left:582px;top:191px;width:2px;height:14px;background:#1c2810"></div>
<div style="position:absolute;left:586px;top:191px;width:2px;height:14px;background:#1c2810"></div>
<div style="position:absolute;left:592px;top:191px;width:2px;height:14px;background:#1c2810"></div>
<div style="position:absolute;left:599px;top:191px;width:2px;height:14px;background:#1c2810"></div>
<div style="position:absolute;left:605px;top:191px;width:2px;height:14px;background:#1c2810"></div>
<div style="position:absolute;left:613px;top:191px;width:2px;height:14px;background:#1c2810"></div>
<div style="position:absolute;left:642px;top:191px;width:2px;height:14px;background:#1c2810"></div>
<div style="position:absolute;left:648px;top:191px;width:2px;height:14px;background:#1c2810"></div>
<div style="position:absolute;left:651px;top:191px;width:2px;height:14px;background:#1c2810"></div>
<div style="position:absolute;left:670px;top:191px;width:2px;height:14px;background:#1c2810"></div>
<div style="position:absolute;left:710px;top:191px;width:2px;height:14px;background:#1c2810"></div>
<div style="position:absolute;left:748px;top:191px;width:2px;height:14px;background:#1c2810"></div>
<div style="position:absolute;left:776px;top:191px;width:2px;height:14px;background:#1c2810"></div>
<div style="position:absolute;left:786px;top:191px;width:2px;height:14px;background:#1c2810"></div>
<div style="position:absolute;left:470px;top:191px;width:9px;height:14px;background:#80c02a;border:2px solid #13218e;box-sizing:border-box"></div>
<div style="position:absolute;left:375px;top:210px;width:9px;height:14px;background:#5f8b22"></div>
<div style="position:absolute;left:375px;top:210px;width:9px;height:14px;border:1px solid #1c2810;box-sizing:border-box"></div>
<div style="position:absolute;left:386px;top:210px;width:24px;height:14px;background:#5f8b22"></div>
<div style="position:absolute;left:410px;top:210px;width:41px;height:14px;background:#5f8b22"></div>
<div style="position:absolute;left:451px;top:210px;width:18px;height:14px;background:#80c02a"></div>
<div style="position:absolute;left:469px;top:210px;width:35px;height:14px;background:#80c02a"></div>
<div style="position:absolute;left:504px;top:210px;width:5px;height:14px;background:#80c02a"></div>
<div style="position:absolute;left:509px;top:210px;width:11px;height:14px;background:#80c02a"></div>
<div style="position:absolute;left:539px;top:210px;width:35px;height:14px;background:#80c02a"></div>
<div style="position:absolute;left:574px;top:210px;width:19px;height:14px;background:#80c02a"></div>
<div style="position:absolute;left:593px;top:210px;width:8px;height:14px;background:#80c02a"></div>
<div style="position:absolute;left:601px;top:210px;width:15px;height:14px;background:#80c02a"></div>
<div style="position:absolute;left:616px;top:210px;width:36px;height:14px;background:#80c02a"></div>
<div style="position:absolute;left:652px;top:210px;width:9px;height:14px;background:#80c02a"></div>
<div style="position:absolute;left:661px;top:210px;width:18px;height:14px;background:#80c02a"></div>
<div style="position:absolute;left:679px;top:210px;width:41px;height:14px;background:#80c02a"></div>
<div style="position:absolute;left:720px;top:210px;width:21px;height:14px;background:#80c02a"></div>
<div style="position:absolute;left:741px;top:210px;width:2px;height:14px;background:#e8892a"></div>
<div style="position:absolute;left:743px;top:210px;width:1px;height:14px;background:#f5e070"></div>
<div style="position:absolute;left:744px;top:210px;width:30px;height:14px;background:#80c02a"></div>
<div style="position:absolute;left:774px;top:210px;width:71px;height:14px;background:#80c02a"></div>
<div style="position:absolute;left:845px;top:210px;width:14px;height:14px;background:#80c02a"></div>
<div style="position:absolute;left:859px;top:210px;width:82px;height:14px;background:#80c02a"></div>
<div style="position:absolute;left:386px;top:210px;width:555px;height:14px;border:1px solid #1c2810;box-sizing:border-box"></div>
<div style="position:absolute;left:409px;top:210px;width:2px;height:14px;background:#1c2810"></div>
<div style="position:absolute;left:450px;top:210px;width:2px;height:14px;background:#1c2810"></div>
<div style="position:absolute;left:468px;top:210px;width:2px;height:14px;background:#1c2810"></div>
<div style="position:absolute;left:503px;top:210px;width:2px;height:14px;background:#1c2810"></div>
<div style="position:absolute;left:508px;top:210px;width:2px;height:14px;background:#1c2810"></div>
<div style="position:absolute;left:519px;top:210px;width:2px;height:14px;background:#1c2810"></div>
<div style="position:absolute;left:538px;top:210px;width:2px;height:14px;background:#1c2810"></div>
<div style="position:absolute;left:573px;top:210px;width:2px;height:14px;background:#1c2810"></div>
<div style="position:absolute;left:592px;top:210px;width:2px;height:14px;background:#1c2810"></div>
<div style="position:absolute;left:600px;top:210px;width:2px;height:14px;background:#1c2810"></div>
<div style="position:absolute;left:615px;top:210px;width:2px;height:14px;background:#1c2810"></div>
<div style="position:absolute;left:651px;top:210px;width:2px;height:14px;background:#1c2810"></div>
<div style="position:absolute;left:660px;top:210px;width:2px;height:14px;background:#1c2810"></div>
<div style="position:absolute;left:678px;top:210px;width:2px;height:14px;background:#1c2810"></div>
<div style="position:absolute;left:719px;top:210px;width:2px;height:14px;background:#1c2810"></div>
<div style="position:absolute;left:773px;top:210px;width:2px;height:14px;background:#1c2810"></div>
<div style="position:absolute;left:844px;top:210px;width:2px;height:14px;background:#1c2810"></div>
<div style="position:absolute;left:858px;top:210px;width:2px;height:14px;background:#1c2810"></div>
<div style="position:absolute;left:520px;top:210px;width:19px;height:14px;background:#80c02a;border:2px solid #13218e;box-sizing:border-box"></div>
<div style="position:absolute;left:375px;top:229px;width:37px;height:14px;background:#5f8b22"></div>
<div style="position:absolute;left:412px;top:229px;width:60px;height:14px;background:#5f8b22"></div>
<div style="position:absolute;left:472px;top:229px;width:49px;height:14px;background:#80c02a"></div>
<div style="position:absolute;left:521px;top:229px;width:2px;height:14px;background:#e8892a"></div>
<div style="position:absolute;left:523px;top:229px;width:50px;height:14px;background:#80c02a"></div>
<div style="position:absolute;left:573px;top:229px;width:10px;height:14px;background:#80c02a"></div>
<div style="position:absolute;left:613px;top:229px;width:49px;height:14px;background:#80c02a"></div>
<div style="position:absolute;left:662px;top:229px;width:49px;height:14px;background:#80c02a"></div>
<div style="position:absolute;left:711px;top:229px;width:30px;height:14px;background:#80c02a"></div>
<div style="position:absolute;left:741px;top:229px;width:35px;height:14px;background:#80c02a"></div>
<div style="position:absolute;left:776px;top:229px;width:40px;height:14px;background:#80c02a"></div>
<div style="position:absolute;left:816px;top:229px;width:58px;height:14px;background:#80c02a"></div>
<div style="position:absolute;left:874px;top:229px;width:2px;height:14px;background:#e8892a"></div>
<div style="position:absolute;left:876px;top:229px;width:167px;height:14px;background:#80c02a"></div>
<div style="position:absolute;left:375px;top:229px;width:668px;height:14px;border:1px solid #1c2810;box-sizing:border-box"></div>
<div style="position:absolute;left:411px;top:229px;width:2px;height:14px;background:#1c2810"></div>
<div style="position:absolute;left:471px;top:229px;width:2px;height:14px;background:#1c2810"></div>
<div style="position:absolute;left:572px;top:229px;width:2px;height:14px;background:#1c2810"></div>
<div style="position:absolute;left:582px;top:229px;width:2px;height:14px;background:#1c2810"></div>
<div style="position:absolute;left:612px;top:229px;width:2px;height:14px;background:#1c2810"></div>
<div style="position:absolute;left:661px;top:229px;width:2px;height:14px;background:#1c2810"></div>
<div style="position:absolute;left:710px;top:229px;width:2px;height:14px;background:#1c2810"></div>
<div style="position:absolute;left:740px;top:229px;width:2px;height:14px;background:#1c2810"></div>
<div style="position:absolute;left:775px;top:229px;width:2px;height:14px;background:#1c2810"></div>
<div style="position:absolute;left:815px;top:229px;width:2px;height:14px;background:#1c2810"></div>
<div style="position:absolute;left:583px;top:229px;width:30px;height:14px;background:#80c02a;border:2px solid #c8401a;box-sizing:border-box"></div>
<div style="position:absolute;left:1057px;top:229px;width:23px;height:14px;background:#80c02a"></div>
<div style="position:absolute;left:1080px;top:229px;width:40px;height:14px;background:#80c02a"></div>
<div style="position:absolute;left:1057px;top:229px;width:63px;height:14px;border:1px solid #1c2810;box-sizing:border-box"></div>
<div style="position:absolute;left:1079px;top:229px;width:2px;height:14px;background:#1c2810"></div>
<div style="position:absolute;left:375px;top:249px;width:29px;height:14px;background:#5f8b22"></div>
<div style="position:absolute;left:404px;top:249px;width:40px;height:14px;background:#5f8b22"></div>
<div style="position:absolute;left:444px;top:249px;width:61px;height:14px;background:#5f8b22"></div>
<div style="position:absolute;left:505px;top:249px;width:30px;height:14px;background:#80c02a"></div>
<div style="position:absolute;left:535px;top:249px;width:11px;height:14px;background:#80c02a"></div>
<div style="position:absolute;left:546px;top:249px;width:38px;height:14px;background:#80c02a"></div>
<div style="position:absolute;left:584px;top:249px;width:31px;height:14px;background:#80c02a"></div>
<div style="position:absolute;left:615px;top:249px;width:35px;height:14px;background:#80c02a"></div>
<div style="position:absolute;left:650px;top:249px;width:30px;height:14px;background:#80c02a"></div>
<div style="position:absolute;left:680px;top:249px;width:49px;height:14px;background:#80c02a"></div>
<div style="position:absolute;left:729px;top:249px;width:17px;height:14px;background:#80c02a"></div>
<div style="position:absolute;left:746px;top:249px;width:32px;height:14px;background:#80c02a"></div>
<div style="position:absolute;left:778px;top:249px;width:63px;height:14px;background:#80c02a"></div>
<div style="position:absolute;left:841px;top:249px;width:20px;height:14px;background:#80c02a"></div>
<div style="position:absolute;left:861px;top:249px;width:20px;height:14px;background:#80c02a"></div>
<div style="position:absolute;left:375px;top:249px;width:506px;height:14px;border:1px solid #1c2810;box-sizing:border-box"></div>
<div style="position:absolute;left:403px;top:249px;width:2px;height:14px;background:#1c2810"></div>
<div style="position:absolute;left:443px;top:249px;width:2px;height:14px;background:#1c2810"></div>
<div style="position:absolute;left:504px;top:249px;width:2px;height:14px;background:#1c2810"></div>
<div style="position:absolute;left:534px;top:249px;width:2px;height:14px;background:#1c2810"></div>
<div style="position:absolute;left:545px;top:249px;width:2px;height:14px;background:#1c2810"></div>
<div style="position:absolute;left:583px;top:249px;width:2px;height:14px;background:#1c2810"></div>
<div style="position:absolute;left:614px;top:249px;width:2px;height:14px;background:#1c2810"></div>
<div style="position:absolute;left:649px;top:249px;width:2px;height:14px;background:#1c2810"></div>
<div style="position:absolute;left:679px;top:249px;width:2px;height:14px;background:#1c2810"></div>
<div style="position:absolute;left:728px;top:249px;width:2px;height:14px;background:#1c2810"></div>
<div style="position:absolute;left:745px;top:249px;width:2px;height:14px;background:#1c2810"></div>
<div style="position:absolute;left:777px;top:249px;width:2px;height:14px;background:#1c2810"></div>
<div style="position:absolute;left:840px;top:249px;width:2px;height:14px;background:#1c2810"></div>
<div style="position:absolute;left:860px;top:249px;width:2px;height:14px;background:#1c2810"></div>
<div style="position:absolute;left:941px;top:249px;width:140px;height:14px;background:#80c02a"></div>
<div style="position:absolute;left:941px;top:249px;width:140px;height:14px;border:1px solid #1c2810;box-sizing:border-box"></div>
<div style="position:absolute;left:375px;top:287px;width:25px;height:14px;background:#5f8b22"></div>
<div style="position:absolute;left:375px;top:287px;width:25px;height:14px;border:1px solid #1c2810;box-sizing:border-box"></div>
<div style="position:absolute;left:409px;top:287px;width:31px;height:14px;background:#5f8b22"></div>
<div style="position:absolute;left:440px;top:287px;width:28px;height:14px;background:#5f8b22"></div>
<div style="position:absolute;left:409px;top:287px;width:59px;height:14px;border:1px solid #1c2810;box-sizing:border-box"></div>
<div style="position:absolute;left:439px;top:287px;width:2px;height:14px;background:#1c2810"></div>
<div style="position:absolute;left:476px;top:287px;width:40px;height:14px;background:#5f8b22"></div>
<div style="position:absolute;left:516px;top:287px;width:21px;height:14px;background:#5f8b22"></div>
<div style="position:absolute;left:476px;top:287px;width:61px;height:14px;border:1px solid #1c2810;box-sizing:border-box"></div>
<div style="position:absolute;left:515px;top:287px;width:2px;height:14px;background:#1c2810"></div>
<div style="position:absolute;left:543px;top:287px;width:31px;height:14px;background:#80c02a"></div>
<div style="position:absolute;left:574px;top:287px;width:9px;height:14px;background:#80c02a"></div>
<div style="position:absolute;left:583px;top:287px;width:18px;height:14px;background:#80c02a"></div>
<div style="position:absolute;left:601px;top:287px;width:11px;height:14px;background:#80c02a"></div>
<div style="position:absolute;left:612px;top:287px;width:38px;height:14px;background:#80c02a"></div>
<div style="position:absolute;left:650px;top:287px;width:19px;height:14px;background:#80c02a"></div>
<div style="position:absolute;left:669px;top:287px;width:38px;height:14px;background:#80c02a"></div>
<div style="position:absolute;left:707px;top:287px;width:18px;height:14px;background:#80c02a"></div>
<div style="position:absolute;left:543px;top:287px;width:182px;height:14px;border:1px solid #1c2810;box-sizing:border-box"></div>
<div style="position:absolute;left:573px;top:287px;width:2px;height:14px;background:#1c2810"></div>
<div style="position:absolute;left:582px;top:287px;width:2px;height:14px;background:#1c2810"></div>
<div style="position:absolute;left:600px;top:287px;width:2px;height:14px;background:#1c2810"></div>
<div style="position:absolute;left:611px;top:287px;width:2px;height:14px;background:#1c2810"></div>
<div style="position:absolute;left:649px;top:287px;width:2px;height:14px;background:#1c2810"></div>
<div style="position:absolute;left:668px;top:287px;width:2px;height:14px;background:#1c2810"></div>
<div style="position:absolute;left:706px;top:287px;width:2px;height:14px;background:#1c2810"></div>
<div style="position:absolute;left:727px;top:287px;width:19px;height:14px;background:#80c02a"></div>
<div style="position:absolute;left:746px;top:287px;width:37px;height:14px;background:#80c02a"></div>
<div style="position:absolute;left:783px;top:287px;width:10px;height:14px;background:#80c02a"></div>
<div style="position:absolute;left:793px;top:287px;width:9px;height:14px;background:#80c02a"></div>
<div style="position:absolute;left:727px;top:287px;width:75px;height:14px;border:1px solid #1c2810;box-sizing:border-box"></div>
<div style="position:absolute;left:745px;top:287px;width:2px;height:14px;background:#1c2810"></div>
<div style="position:absolute;left:782px;top:287px;width:2px;height:14px;background:#1c2810"></div>
<div style="position:absolute;left:792px;top:287px;width:2px;height:14px;background:#1c2810"></div>
<div style="position:absolute;left:811px;top:287px;width:32px;height:14px;background:#80c02a"></div>
<div style="position:absolute;left:843px;top:287px;width:27px;height:14px;background:#80c02a"></div>
<div style="position:absolute;left:870px;top:287px;width:40px;height:14px;background:#80c02a"></div>
<div style="position:absolute;left:910px;top:287px;width:26px;height:14px;background:#80c02a"></div>
<div style="position:absolute;left:811px;top:287px;width:125px;height:14px;border:1px solid #1c2810;box-sizing:border-box"></div>
<div style="position:absolute;left:842px;top:287px;width:2px;height:14px;background:#1c2810"></div>
<div style="position:absolute;left:869px;top:287px;width:2px;height:14px;background:#1c2810"></div>
<div style="position:absolute;left:909px;top:287px;width:2px;height:14px;background:#1c2810"></div>
<div style="position:absolute;left:1014px;top:287px;width:96px;height:14px;background:#80c02a"></div>
<div style="position:absolute;left:1110px;top:287px;width:20px;height:14px;background:#80c02a"></div>
<div style="position:absolute;left:1130px;top:287px;width:20px;height:14px;background:#80c02a"></div>
<div style="position:absolute;left:1014px;top:287px;width:136px;height:14px;border:1px solid #1c2810;box-sizing:border-box"></div>
<div style="position:absolute;left:1109px;top:287px;width:2px;height:14px;background:#1c2810"></div>
<div style="position:absolute;left:1129px;top:287px;width:2px;height:14px;background:#1c2810"></div>
<div style="position:absolute;left:375px;top:306px;width:25px;height:14px;background:#5f8b22"></div>
<div style="position:absolute;left:375px;top:306px;width:25px;height:14px;border:1px solid #1c2810;box-sizing:border-box"></div>
<div style="position:absolute;left:409px;top:306px;width:38px;height:14px;background:#5f8b22"></div>
<div style="position:absolute;left:447px;top:306px;width:11px;height:14px;background:#5f8b22"></div>
<div style="position:absolute;left:458px;top:306px;width:18px;height:14px;background:#5f8b22"></div>
<div style="position:absolute;left:409px;top:306px;width:67px;height:14px;border:1px solid #1c2810;box-sizing:border-box"></div>
<div style="position:absolute;left:446px;top:306px;width:2px;height:14px;background:#1c2810"></div>
<div style="position:absolute;left:457px;top:306px;width:2px;height:14px;background:#1c2810"></div>
<div style="position:absolute;left:505px;top:306px;width:21px;height:14px;background:#5f8b22"></div>
<div style="position:absolute;left:526px;top:306px;width:18px;height:14px;background:#80c02a"></div>
<div style="position:absolute;left:544px;top:306px;width:30px;height:14px;background:#80c02a"></div>
<div style="position:absolute;left:574px;top:306px;width:20px;height:14px;background:#80c02a"></div>
<div style="position:absolute;left:594px;top:306px;width:9px;height:14px;background:#80c02a"></div>
<div style="position:absolute;left:603px;top:306px;width:10px;height:14px;background:#80c02a"></div>
<div style="position:absolute;left:650px;top:306px;width:10px;height:14px;background:#80c02a"></div>
<div style="position:absolute;left:505px;top:306px;width:155px;height:14px;border:1px solid #1c2810;box-sizing:border-box"></div>
<div style="position:absolute;left:525px;top:306px;width:2px;height:14px;background:#1c2810"></div>
<div style="position:absolute;left:543px;top:306px;width:2px;height:14px;background:#1c2810"></div>
<div style="position:absolute;left:573px;top:306px;width:2px;height:14px;background:#1c2810"></div>
<div style="position:absolute;left:593px;top:306px;width:2px;height:14px;background:#1c2810"></div>
<div style="position:absolute;left:602px;top:306px;width:2px;height:14px;background:#1c2810"></div>
<div style="position:absolute;left:612px;top:306px;width:2px;height:14px;background:#1c2810"></div>
<div style="position:absolute;left:649px;top:306px;width:2px;height:14px;background:#1c2810"></div>
<div style="position:absolute;left:613px;top:306px;width:37px;height:14px;background:#80c02a;border:2px solid #13218e;box-sizing:border-box"></div>
<div style="position:absolute;left:668px;top:306px;width:12px;height:14px;background:#80c02a"></div>
<div style="position:absolute;left:680px;top:306px;width:28px;height:14px;background:#80c02a"></div>
<div style="position:absolute;left:668px;top:306px;width:40px;height:14px;border:1px solid #1c2810;box-sizing:border-box"></div>
<div style="position:absolute;left:679px;top:306px;width:2px;height:14px;background:#1c2810"></div>
<div style="position:absolute;left:716px;top:306px;width:12px;height:14px;background:#80c02a"></div>
<div style="position:absolute;left:716px;top:306px;width:12px;height:14px;border:1px solid #1c2810;box-sizing:border-box"></div>
<div style="position:absolute;left:735px;top:306px;width:12px;height:14px;background:#80c02a"></div>
<div style="position:absolute;left:747px;top:306px;width:28px;height:14px;background:#80c02a"></div>
<div style="position:absolute;left:775px;top:306px;width:19px;height:14px;background:#80c02a"></div>
<div style="position:absolute;left:735px;top:306px;width:59px;height:14px;border:1px solid #1c2810;box-sizing:border-box"></div>
<div style="position:absolute;left:746px;top:306px;width:2px;height:14px;background:#1c2810"></div>
<div style="position:absolute;left:774px;top:306px;width:2px;height:14px;background:#1c2810"></div>
<div style="position:absolute;left:840px;top:306px;width:21px;height:14px;background:#80c02a"></div>
<div style="position:absolute;left:861px;top:306px;width:11px;height:14px;background:#80c02a"></div>
<div style="position:absolute;left:840px;top:306px;width:32px;height:14px;border:1px solid #1c2810;box-sizing:border-box"></div>
<div style="position:absolute;left:860px;top:306px;width:2px;height:14px;background:#1c2810"></div>
<div style="position:absolute;left:879px;top:306px;width:48px;height:14px;background:#80c02a"></div>
<div style="position:absolute;left:879px;top:306px;width:48px;height:14px;border:1px solid #1c2810;box-sizing:border-box"></div>
<div style="position:absolute;left:1043px;top:306px;width:77px;height:14px;background:#80c02a"></div>
<div style="position:absolute;left:1120px;top:306px;width:33px;height:14px;background:#80c02a"></div>
<div style="position:absolute;left:1043px;top:306px;width:110px;height:14px;border:1px solid #1c2810;box-sizing:border-box"></div>
<div style="position:absolute;left:1119px;top:306px;width:2px;height:14px;background:#1c2810"></div>
<div style="position:absolute;left:375px;top:326px;width:34px;height:14px;background:#5f8b22"></div>
<div style="position:absolute;left:375px;top:326px;width:34px;height:14px;border:1px solid #1c2810;box-sizing:border-box"></div>
<div style="position:absolute;left:441px;top:326px;width:29px;height:14px;background:#80c02a"></div>
<div style="position:absolute;left:441px;top:326px;width:29px;height:14px;border:1px solid #1c2810;box-sizing:border-box"></div>
<div style="position:absolute;left:476px;top:326px;width:40px;height:14px;background:#80c02a"></div>
<div style="position:absolute;left:476px;top:326px;width:40px;height:14px;border:1px solid #1c2810;box-sizing:border-box"></div>
<div style="position:absolute;left:526px;top:326px;width:49px;height:14px;background:#80c02a"></div>
<div style="position:absolute;left:575px;top:326px;width:30px;height:14px;background:#80c02a"></div>
<div style="position:absolute;left:605px;top:326px;width:39px;height:14px;background:#80c02a"></div>
<div style="position:absolute;left:526px;top:326px;width:118px;height:14px;border:1px solid #1c2810;box-sizing:border-box"></div>
<div style="position:absolute;left:574px;top:326px;width:2px;height:14px;background:#1c2810"></div>
<div style="position:absolute;left:604px;top:326px;width:2px;height:14px;background:#1c2810"></div>
<div style="position:absolute;left:650px;top:326px;width:30px;height:14px;background:#80c02a"></div>
<div style="position:absolute;left:650px;top:326px;width:30px;height:14px;border:1px solid #1c2810;box-sizing:border-box"></div>
<div style="position:absolute;left:707px;top:326px;width:30px;height:14px;background:#80c02a"></div>
<div style="position:absolute;left:707px;top:326px;width:30px;height:14px;border:1px solid #1c2810;box-sizing:border-box"></div>
<div style="position:absolute;left:747px;top:326px;width:49px;height:14px;background:#80c02a"></div>
<div style="position:absolute;left:747px;top:326px;width:49px;height:14px;border:1px solid #1c2810;box-sizing:border-box"></div>
<div style="position:absolute;left:843px;top:326px;width:29px;height:14px;background:#80c02a"></div>
<div style="position:absolute;left:843px;top:326px;width:29px;height:14px;border:1px solid #1c2810;box-sizing:border-box"></div>
<div style="position:absolute;left:928px;top:326px;width:59px;height:14px;background:#80c02a"></div>
<div style="position:absolute;left:928px;top:326px;width:59px;height:14px;border:1px solid #1c2810;box-sizing:border-box"></div>
<div style="position:absolute;left:1120px;top:326px;width:33px;height:14px;background:#80c02a"></div>
<div style="position:absolute;left:1120px;top:326px;width:33px;height:14px;border:1px solid #1c2810;box-sizing:border-box"></div>
<div style="position:absolute;left:375px;top:345px;width:27px;height:14px;background:#5f8b22"></div>
<div style="position:absolute;left:402px;top:345px;width:40px;height:14px;background:#80c02a"></div>
<div style="position:absolute;left:375px;top:345px;width:67px;height:14px;border:1px solid #1c2810;box-sizing:border-box"></div>
<div style="position:absolute;left:401px;top:345px;width:2px;height:14px;background:#1c2810"></div>
<div style="position:absolute;left:458px;top:345px;width:52px;height:14px;background:#80c02a"></div>
<div style="position:absolute;left:458px;top:345px;width:52px;height:14px;border:1px solid #1c2810;box-sizing:border-box"></div>
<div style="position:absolute;left:537px;top:345px;width:49px;height:14px;background:#80c02a"></div>
<div style="position:absolute;left:586px;top:345px;width:29px;height:14px;background:#80c02a"></div>
<div style="position:absolute;left:615px;top:345px;width:35px;height:14px;background:#80c02a"></div>
<div style="position:absolute;left:537px;top:345px;width:113px;height:14px;border:1px solid #1c2810;box-sizing:border-box"></div>
<div style="position:absolute;left:585px;top:345px;width:2px;height:14px;background:#1c2810"></div>
<div style="position:absolute;left:614px;top:345px;width:2px;height:14px;background:#1c2810"></div>
<div style="position:absolute;left:669px;top:345px;width:49px;height:14px;background:#80c02a"></div>
<div style="position:absolute;left:669px;top:345px;width:49px;height:14px;border:1px solid #1c2810;box-sizing:border-box"></div>
<div style="position:absolute;left:725px;top:345px;width:50px;height:14px;background:#80c02a"></div>
<div style="position:absolute;left:725px;top:345px;width:50px;height:14px;border:1px solid #1c2810;box-sizing:border-box"></div>
<div style="position:absolute;left:793px;top:345px;width:49px;height:14px;background:#80c02a"></div>
<div style="position:absolute;left:793px;top:345px;width:49px;height:14px;border:1px solid #1c2810;box-sizing:border-box"></div>
<div style="position:absolute;left:870px;top:345px;width:68px;height:14px;background:#80c02a"></div>
<div style="position:absolute;left:870px;top:345px;width:68px;height:14px;border:1px solid #1c2810;box-sizing:border-box"></div>
<div style="position:absolute;left:375px;top:364px;width:27px;height:14px;background:#5f8b22"></div>
<div style="position:absolute;left:402px;top:364px;width:40px;height:14px;background:#80c02a"></div>
<div style="position:absolute;left:375px;top:364px;width:67px;height:14px;border:1px solid #1c2810;box-sizing:border-box"></div>
<div style="position:absolute;left:401px;top:364px;width:2px;height:14px;background:#1c2810"></div>
<div style="position:absolute;left:537px;top:364px;width:49px;height:14px;background:#80c02a"></div>
<div style="position:absolute;left:537px;top:364px;width:49px;height:14px;border:1px solid #1c2810;box-sizing:border-box"></div>
<div style="position:absolute;left:601px;top:364px;width:49px;height:14px;background:#80c02a"></div>
<div style="position:absolute;left:601px;top:364px;width:49px;height:14px;border:1px solid #1c2810;box-sizing:border-box"></div>
<div style="position:absolute;left:728px;top:364px;width:48px;height:14px;background:#80c02a"></div>
<div style="position:absolute;left:728px;top:364px;width:48px;height:14px;border:1px solid #1c2810;box-sizing:border-box"></div>
<div style="position:absolute;left:795px;top:364px;width:49px;height:14px;background:#80c02a"></div>
<div style="position:absolute;left:795px;top:364px;width:49px;height:14px;border:1px solid #1c2810;box-sizing:border-box"></div>
<div style="position:absolute;left:936px;top:364px;width:40px;height:14px;background:#80c02a"></div>
<div style="position:absolute;left:936px;top:364px;width:40px;height:14px;border:1px solid #1c2810;box-sizing:border-box"></div>
<div style="position:absolute;left:375px;top:383px;width:8px;height:14px;background:#5f8b22"></div>
<div style="position:absolute;left:375px;top:383px;width:8px;height:14px;border:1px solid #1c2810;box-sizing:border-box"></div>
<div style="position:absolute;left:402px;top:383px;width:38px;height:14px;background:#5f8b22"></div>
<div style="position:absolute;left:440px;top:383px;width:17px;height:14px;background:#5f8b22"></div>
<div style="position:absolute;left:457px;top:383px;width:13px;height:14px;background:#5f8b22"></div>
<div style="position:absolute;left:470px;top:383px;width:9px;height:14px;background:#80c02a"></div>
<div style="position:absolute;left:479px;top:383px;width:37px;height:14px;background:#80c02a"></div>
<div style="position:absolute;left:516px;top:383px;width:19px;height:14px;background:#80c02a"></div>
<div style="position:absolute;left:535px;top:383px;width:10px;height:14px;background:#80c02a"></div>
<div style="position:absolute;left:545px;top:383px;width:28px;height:14px;background:#80c02a"></div>
<div style="position:absolute;left:402px;top:383px;width:171px;height:14px;border:1px solid #1c2810;box-sizing:border-box"></div>
<div style="position:absolute;left:439px;top:383px;width:2px;height:14px;background:#1c2810"></div>
<div style="position:absolute;left:456px;top:383px;width:2px;height:14px;background:#1c2810"></div>
<div style="position:absolute;left:469px;top:383px;width:2px;height:14px;background:#1c2810"></div>
<div style="position:absolute;left:478px;top:383px;width:2px;height:14px;background:#1c2810"></div>
<div style="position:absolute;left:515px;top:383px;width:2px;height:14px;background:#1c2810"></div>
<div style="position:absolute;left:534px;top:383px;width:2px;height:14px;background:#1c2810"></div>
<div style="position:absolute;left:544px;top:383px;width:2px;height:14px;background:#1c2810"></div>
<div style="position:absolute;left:575px;top:383px;width:18px;height:14px;background:#80c02a"></div>
<div style="position:absolute;left:593px;top:383px;width:18px;height:14px;background:#80c02a"></div>
<div style="position:absolute;left:611px;top:383px;width:29px;height:14px;background:#80c02a"></div>
<div style="position:absolute;left:640px;top:383px;width:19px;height:14px;background:#80c02a"></div>
<div style="position:absolute;left:659px;top:383px;width:10px;height:14px;background:#80c02a"></div>
<div style="position:absolute;left:669px;top:383px;width:11px;height:14px;background:#80c02a"></div>
<div style="position:absolute;left:680px;top:383px;width:29px;height:14px;background:#80c02a"></div>
<div style="position:absolute;left:709px;top:383px;width:17px;height:14px;background:#80c02a"></div>
<div style="position:absolute;left:726px;top:383px;width:19px;height:14px;background:#80c02a"></div>
<div style="position:absolute;left:745px;top:383px;width:29px;height:14px;background:#80c02a"></div>
<div style="position:absolute;left:774px;top:383px;width:19px;height:14px;background:#80c02a"></div>
<div style="position:absolute;left:793px;top:383px;width:11px;height:14px;background:#80c02a"></div>
<div style="position:absolute;left:804px;top:383px;width:37px;height:14px;background:#80c02a"></div>
<div style="position:absolute;left:841px;top:383px;width:11px;height:14px;background:#80c02a"></div>
<div style="position:absolute;left:852px;top:383px;width:18px;height:14px;background:#80c02a"></div>
<div style="position:absolute;left:870px;top:383px;width:12px;height:14px;background:#80c02a"></div>
<div style="position:absolute;left:882px;top:383px;width:46px;height:14px;background:#80c02a"></div>
<div style="position:absolute;left:575px;top:383px;width:353px;height:14px;border:1px solid #1c2810;box-sizing:border-box"></div>
<div style="position:absolute;left:592px;top:383px;width:2px;height:14px;background:#1c2810"></div>
<div style="position:absolute;left:610px;top:383px;width:2px;height:14px;background:#1c2810"></div>
<div style="position:absolute;left:639px;top:383px;width:2px;height:14px;background:#1c2810"></div>
<div style="position:absolute;left:658px;top:383px;width:2px;height:14px;background:#1c2810"></div>
<div style="position:absolute;left:668px;top:383px;width:2px;height:14px;background:#1c2810"></div>
<div style="position:absolute;left:679px;top:383px;width:2px;height:14px;background:#1c2810"></div>
<div style="position:absolute;left:708px;top:383px;width:2px;height:14px;background:#1c2810"></div>
<div style="position:absolute;left:725px;top:383px;width:2px;height:14px;background:#1c2810"></div>
<div style="position:absolute;left:744px;top:383px;width:2px;height:14px;background:#1c2810"></div>
<div style="position:absolute;left:773px;top:383px;width:2px;height:14px;background:#1c2810"></div>
<div style="position:absolute;left:792px;top:383px;width:2px;height:14px;background:#1c2810"></div>
<div style="position:absolute;left:803px;top:383px;width:2px;height:14px;background:#1c2810"></div>
<div style="position:absolute;left:840px;top:383px;width:2px;height:14px;background:#1c2810"></div>
<div style="position:absolute;left:851px;top:383px;width:2px;height:14px;background:#1c2810"></div>
<div style="position:absolute;left:869px;top:383px;width:2px;height:14px;background:#1c2810"></div>
<div style="position:absolute;left:881px;top:383px;width:2px;height:14px;background:#1c2810"></div>
<div style="position:absolute;left:938px;top:383px;width:39px;height:14px;background:#80c02a"></div>
<div style="position:absolute;left:977px;top:383px;width:10px;height:14px;background:#80c02a"></div>
<div style="position:absolute;left:987px;top:383px;width:19px;height:14px;background:#80c02a"></div>
<div style="position:absolute;left:938px;top:383px;width:68px;height:14px;border:1px solid #1c2810;box-sizing:border-box"></div>
<div style="position:absolute;left:976px;top:383px;width:2px;height:14px;background:#1c2810"></div>
<div style="position:absolute;left:986px;top:383px;width:2px;height:14px;background:#1c2810"></div>
<div style="position:absolute;left:382px;top:403px;width:4px;height:13px;background:#5f8b22"></div>
<div style="position:absolute;left:382px;top:403px;width:4px;height:13px;border:1px solid #1c2810;box-sizing:border-box"></div>
<div style="position:absolute;left:439px;top:403px;width:6px;height:13px;background:#5f8b22"></div>
<div style="position:absolute;left:439px;top:403px;width:6px;height:13px;border:1px solid #1c2810;box-sizing:border-box"></div>
<div style="position:absolute;left:457px;top:403px;width:5px;height:13px;background:#5f8b22"></div>
<div style="position:absolute;left:457px;top:403px;width:5px;height:13px;border:1px solid #1c2810;box-sizing:border-box"></div>
<div style="position:absolute;left:469px;top:403px;width:6px;height:13px;background:#5f8b22"></div>
<div style="position:absolute;left:469px;top:403px;width:6px;height:13px;border:1px solid #1c2810;box-sizing:border-box"></div>
<div style="position:absolute;left:479px;top:403px;width:3px;height:13px;background:#80c02a"></div>
<div style="position:absolute;left:479px;top:403px;width:3px;height:13px;border:1px solid #1c2810;box-sizing:border-box"></div>
<div style="position:absolute;left:515px;top:403px;width:5px;height:13px;background:#80c02a"></div>
<div style="position:absolute;left:515px;top:403px;width:5px;height:13px;border:1px solid #1c2810;box-sizing:border-box"></div>
<div style="position:absolute;left:535px;top:403px;width:6px;height:13px;background:#80c02a"></div>
<div style="position:absolute;left:535px;top:403px;width:6px;height:13px;border:1px solid #1c2810;box-sizing:border-box"></div>
<div style="position:absolute;left:544px;top:403px;width:4px;height:13px;background:#5f8b22"></div>
<div style="position:absolute;left:544px;top:403px;width:4px;height:13px;border:1px solid #1c2810;box-sizing:border-box"></div>
<div style="position:absolute;left:573px;top:403px;width:3px;height:13px;background:#5f8b22"></div>
<div style="position:absolute;left:573px;top:403px;width:3px;height:13px;border:1px solid #1c2810;box-sizing:border-box"></div>
<div style="position:absolute;left:592px;top:403px;width:6px;height:13px;background:#80c02a"></div>
<div style="position:absolute;left:592px;top:403px;width:6px;height:13px;border:1px solid #1c2810;box-sizing:border-box"></div>
<div style="position:absolute;left:611px;top:403px;width:5px;height:13px;background:#80c02a"></div>
<div style="position:absolute;left:611px;top:403px;width:5px;height:13px;border:1px solid #1c2810;box-sizing:border-box"></div>
<div style="position:absolute;left:641px;top:403px;width:5px;height:13px;background:#80c02a"></div>
<div style="position:absolute;left:641px;top:403px;width:5px;height:13px;border:1px solid #1c2810;box-sizing:border-box"></div>
<div style="position:absolute;left:659px;top:403px;width:5px;height:13px;background:#80c02a"></div>
<div style="position:absolute;left:659px;top:403px;width:5px;height:13px;border:1px solid #1c2810;box-sizing:border-box"></div>
<div style="position:absolute;left:668px;top:403px;width:4px;height:13px;background:#5f8b22"></div>
<div style="position:absolute;left:668px;top:403px;width:4px;height:13px;border:1px solid #1c2810;box-sizing:border-box"></div>
<div style="position:absolute;left:680px;top:403px;width:5px;height:13px;background:#80c02a"></div>
<div style="position:absolute;left:680px;top:403px;width:5px;height:13px;border:1px solid #1c2810;box-sizing:border-box"></div>
<div style="position:absolute;left:709px;top:403px;width:3px;height:13px;background:#5f8b22"></div>
<div style="position:absolute;left:709px;top:403px;width:3px;height:13px;border:1px solid #1c2810;box-sizing:border-box"></div>
<div style="position:absolute;left:726px;top:403px;width:5px;height:13px;background:#80c02a"></div>
<div style="position:absolute;left:726px;top:403px;width:5px;height:13px;border:1px solid #1c2810;box-sizing:border-box"></div>
<div style="position:absolute;left:745px;top:403px;width:5px;height:13px;background:#80c02a"></div>
<div style="position:absolute;left:745px;top:403px;width:5px;height:13px;border:1px solid #1c2810;box-sizing:border-box"></div>
<div style="position:absolute;left:774px;top:403px;width:6px;height:13px;background:#80c02a"></div>
<div style="position:absolute;left:774px;top:403px;width:6px;height:13px;border:1px solid #1c2810;box-sizing:border-box"></div>
<div style="position:absolute;left:793px;top:403px;width:5px;height:13px;background:#80c02a"></div>
<div style="position:absolute;left:793px;top:403px;width:5px;height:13px;border:1px solid #1c2810;box-sizing:border-box"></div>
<div style="position:absolute;left:804px;top:403px;width:5px;height:13px;background:#80c02a"></div>
<div style="position:absolute;left:804px;top:403px;width:5px;height:13px;border:1px solid #1c2810;box-sizing:border-box"></div>
<div style="position:absolute;left:841px;top:403px;width:5px;height:13px;background:#80c02a"></div>
<div style="position:absolute;left:841px;top:403px;width:5px;height:13px;border:1px solid #1c2810;box-sizing:border-box"></div>
<div style="position:absolute;left:852px;top:403px;width:5px;height:13px;background:#80c02a"></div>
<div style="position:absolute;left:852px;top:403px;width:5px;height:13px;border:1px solid #1c2810;box-sizing:border-box"></div>
<div style="position:absolute;left:870px;top:403px;width:6px;height:13px;background:#80c02a"></div>
<div style="position:absolute;left:870px;top:403px;width:6px;height:13px;border:1px solid #1c2810;box-sizing:border-box"></div>
<div style="position:absolute;left:881px;top:403px;width:5px;height:13px;background:#80c02a"></div>
<div style="position:absolute;left:881px;top:403px;width:5px;height:13px;border:1px solid #1c2810;box-sizing:border-box"></div>
<div style="position:absolute;left:928px;top:403px;width:5px;height:13px;background:#80c02a"></div>
<div style="position:absolute;left:928px;top:403px;width:5px;height:13px;border:1px solid #1c2810;box-sizing:border-box"></div>
<div style="position:absolute;left:976px;top:403px;width:7px;height:13px;background:#80c02a"></div>
<div style="position:absolute;left:976px;top:403px;width:7px;height:13px;border:1px solid #1c2810;box-sizing:border-box"></div>
<div style="position:absolute;left:987px;top:403px;width:3px;height:13px;background:#80c02a"></div>
<div style="position:absolute;left:987px;top:403px;width:3px;height:13px;border:1px solid #1c2810;box-sizing:border-box"></div>
<div style="position:absolute;left:1006px;top:403px;width:7px;height:13px;background:#80c02a"></div>
<div style="position:absolute;left:1006px;top:403px;width:7px;height:13px;border:1px solid #1c2810;box-sizing:border-box"></div>
<div style="position:absolute;left:375px;top:441px;width:27px;height:14px;background:#5f8b22"></div>
<div style="position:absolute;left:402px;top:441px;width:49px;height:14px;background:#5f8b22"></div>
<div style="position:absolute;left:451px;top:441px;width:59px;height:14px;background:#5f8b22"></div>
<div style="position:absolute;left:510px;top:441px;width:24px;height:14px;background:#80c02a"></div>
<div style="position:absolute;left:534px;top:441px;width:49px;height:14px;background:#80c02a"></div>
<div style="position:absolute;left:583px;top:441px;width:29px;height:14px;background:#80c02a"></div>
<div style="position:absolute;left:612px;top:441px;width:49px;height:14px;background:#80c02a"></div>
<div style="position:absolute;left:661px;top:441px;width:17px;height:14px;background:#80c02a"></div>
<div style="position:absolute;left:678px;top:441px;width:49px;height:14px;background:#80c02a"></div>
<div style="position:absolute;left:727px;top:441px;width:48px;height:14px;background:#80c02a"></div>
<div style="position:absolute;left:775px;top:441px;width:30px;height:14px;background:#80c02a"></div>
<div style="position:absolute;left:805px;top:441px;width:59px;height:14px;background:#80c02a"></div>
<div style="position:absolute;left:864px;top:441px;width:150px;height:14px;background:#80c02a"></div>
<div style="position:absolute;left:1014px;top:441px;width:139px;height:14px;background:#80c02a"></div>
<div style="position:absolute;left:375px;top:441px;width:778px;height:14px;border:1px solid #1c2810;box-sizing:border-box"></div>
<div style="position:absolute;left:401px;top:441px;width:2px;height:14px;background:#1c2810"></div>
<div style="position:absolute;left:450px;top:441px;width:2px;height:14px;background:#1c2810"></div>
<div style="position:absolute;left:509px;top:441px;width:2px;height:14px;background:#1c2810"></div>
<div style="position:absolute;left:533px;top:441px;width:2px;height:14px;background:#1c2810"></div>
<div style="position:absolute;left:582px;top:441px;width:2px;height:14px;background:#1c2810"></div>
<div style="position:absolute;left:611px;top:441px;width:2px;height:14px;background:#1c2810"></div>
<div style="position:absolute;left:660px;top:441px;width:2px;height:14px;background:#1c2810"></div>
<div style="position:absolute;left:677px;top:441px;width:2px;height:14px;background:#1c2810"></div>
<div style="position:absolute;left:726px;top:441px;width:2px;height:14px;background:#1c2810"></div>
<div style="position:absolute;left:774px;top:441px;width:2px;height:14px;background:#1c2810"></div>
<div style="position:absolute;left:804px;top:441px;width:2px;height:14px;background:#1c2810"></div>
<div style="position:absolute;left:863px;top:441px;width:2px;height:14px;background:#1c2810"></div>
<div style="position:absolute;left:1013px;top:441px;width:2px;height:14px;background:#1c2810"></div>
<div style="position:absolute;left:375px;top:460px;width:17px;height:14px;background:#80c02a"></div>
<div style="position:absolute;left:375px;top:460px;width:17px;height:14px;border:1px solid #1c2810;box-sizing:border-box"></div>
<div style="position:absolute;left:438px;top:460px;width:273px;height:14px;background:#80c02a"></div>
<div style="position:absolute;left:438px;top:460px;width:273px;height:14px;border:1px solid #1c2810;box-sizing:border-box"></div>
<div style="position:absolute;left:505px;top:479px;width:39px;height:14px;background:#80c02a"></div>
<div style="position:absolute;left:505px;top:479px;width:39px;height:14px;border:1px solid #1c2810;box-sizing:border-box"></div>
<div style="position:absolute;left:801px;top:479px;width:352px;height:14px;background:#80c02a"></div>
<div style="position:absolute;left:801px;top:479px;width:352px;height:14px;border:1px solid #1c2810;box-sizing:border-box"></div>
<div style="position:absolute;left:380px;top:499px;width:15px;height:14px;background:#5f8b22"></div>
<div style="position:absolute;left:395px;top:499px;width:43px;height:14px;background:#5f8b22"></div>
<div style="position:absolute;left:438px;top:499px;width:11px;height:14px;background:#80c02a"></div>
<div style="position:absolute;left:449px;top:499px;width:18px;height:14px;background:#80c02a"></div>
<div style="position:absolute;left:467px;top:499px;width:14px;height:14px;background:#80c02a"></div>
<div style="position:absolute;left:481px;top:499px;width:38px;height:14px;background:#80c02a"></div>
<div style="position:absolute;left:519px;top:499px;width:6px;height:14px;background:#80c02a"></div>
<div style="position:absolute;left:525px;top:499px;width:15px;height:14px;background:#80c02a"></div>
<div style="position:absolute;left:540px;top:499px;width:3px;height:14px;background:#f5e070"></div>
<div style="position:absolute;left:543px;top:499px;width:33px;height:14px;background:#80c02a"></div>
<div style="position:absolute;left:576px;top:499px;width:10px;height:14px;background:#80c02a"></div>
<div style="position:absolute;left:586px;top:499px;width:18px;height:14px;background:#80c02a"></div>
<div style="position:absolute;left:604px;top:499px;width:36px;height:14px;background:#80c02a"></div>
<div style="position:absolute;left:640px;top:499px;width:15px;height:14px;background:#80c02a"></div>
<div style="position:absolute;left:655px;top:499px;width:9px;height:14px;background:#80c02a"></div>
<div style="position:absolute;left:664px;top:499px;width:9px;height:14px;background:#80c02a"></div>
<div style="position:absolute;left:673px;top:499px;width:43px;height:14px;background:#80c02a"></div>
<div style="position:absolute;left:716px;top:499px;width:23px;height:14px;background:#80c02a"></div>
<div style="position:absolute;left:739px;top:499px;width:10px;height:14px;background:#80c02a"></div>
<div style="position:absolute;left:749px;top:499px;width:94px;height:14px;background:#80c02a"></div>
<div style="position:absolute;left:843px;top:499px;width:10px;height:14px;background:#80c02a"></div>
<div style="position:absolute;left:853px;top:499px;width:153px;height:14px;background:#80c02a"></div>
<div style="position:absolute;left:380px;top:499px;width:626px;height:14px;border:1px solid #1c2810;box-sizing:border-box"></div>
<div style="position:absolute;left:394px;top:499px;width:2px;height:14px;background:#1c2810"></div>
<div style="position:absolute;left:437px;top:499px;width:2px;height:14px;background:#1c2810"></div>
<div style="position:absolute;left:448px;top:499px;width:2px;height:14px;background:#1c2810"></div>
<div style="position:absolute;left:466px;top:499px;width:2px;height:14px;background:#1c2810"></div>
<div style="position:absolute;left:480px;top:499px;width:2px;height:14px;background:#1c2810"></div>
<div style="position:absolute;left:518px;top:499px;width:2px;height:14px;background:#1c2810"></div>
<div style="position:absolute;left:524px;top:499px;width:2px;height:14px;background:#1c2810"></div>
<div style="position:absolute;left:575px;top:499px;width:2px;height:14px;background:#1c2810"></div>
<div style="position:absolute;left:585px;top:499px;width:2px;height:14px;background:#1c2810"></div>
<div style="position:absolute;left:603px;top:499px;width:2px;height:14px;background:#1c2810"></div>
<div style="position:absolute;left:639px;top:499px;width:2px;height:14px;background:#1c2810"></div>
<div style="position:absolute;left:654px;top:499px;width:2px;height:14px;background:#1c2810"></div>
<div style="position:absolute;left:663px;top:499px;width:2px;height:14px;background:#1c2810"></div>
<div style="position:absolute;left:672px;top:499px;width:2px;height:14px;background:#1c2810"></div>
<div style="position:absolute;left:715px;top:499px;width:2px;height:14px;background:#1c2810"></div>
<div style="position:absolute;left:738px;top:499px;width:2px;height:14px;background:#1c2810"></div>
<div style="position:absolute;left:748px;top:499px;width:2px;height:14px;background:#1c2810"></div>
<div style="position:absolute;left:842px;top:499px;width:2px;height:14px;background:#1c2810"></div>
<div style="position:absolute;left:852px;top:499px;width:2px;height:14px;background:#1c2810"></div>
<div style="position:absolute;left:375px;top:268px;width:25px;height:14px;background:#ecc80c"></div>
<div style="position:absolute;left:400px;top:268px;width:9px;height:14px;background:#ffffff"></div>
<div style="position:absolute;left:409px;top:268px;width:59px;height:14px;background:#ecc80c"></div>
<div style="position:absolute;left:468px;top:268px;width:37px;height:14px;background:#21a878"></div>
<div style="position:absolute;left:505px;top:268px;width:32px;height:14px;background:#ecc80c"></div>
<div style="position:absolute;left:537px;top:268px;width:5px;height:14px;background:#21a878"></div>
<div style="position:absolute;left:542px;top:268px;width:118px;height:14px;background:#ecc80c"></div>
<div style="position:absolute;left:660px;top:268px;width:8px;height:14px;background:#21a878"></div>
<div style="position:absolute;left:668px;top:268px;width:40px;height:14px;background:#ecc80c"></div>
<div style="position:absolute;left:708px;top:268px;width:8px;height:14px;background:#21a878"></div>
<div style="position:absolute;left:716px;top:268px;width:10px;height:14px;background:#ecc80c"></div>
<div style="position:absolute;left:726px;top:268px;width:9px;height:14px;background:#21a878"></div>
<div style="position:absolute;left:735px;top:268px;width:60px;height:14px;background:#ecc80c"></div>
<div style="position:absolute;left:795px;top:268px;width:7px;height:14px;background:#21a878"></div>
<div style="position:absolute;left:802px;top:268px;width:9px;height:14px;background:#ffffff"></div>
<div style="position:absolute;left:811px;top:268px;width:29px;height:14px;background:#21a878"></div>
<div style="position:absolute;left:840px;top:268px;width:32px;height:14px;background:#ecc80c"></div>
<div style="position:absolute;left:872px;top:268px;width:7px;height:14px;background:#21a878"></div>
<div style="position:absolute;left:879px;top:268px;width:49px;height:14px;background:#ecc80c"></div>
<div style="position:absolute;left:928px;top:268px;width:8px;height:14px;background:#21a878"></div>
<div style="position:absolute;left:936px;top:268px;width:78px;height:14px;background:#ffffff"></div>
<div style="position:absolute;left:1014px;top:268px;width:29px;height:14px;background:#21a878"></div>
<div style="position:absolute;left:1043px;top:268px;width:107px;height:14px;background:#ecc80c"></div>
<div style="position:absolute;left:1150px;top:268px;width:3px;height:14px;background:#21a878"></div>
<div style="position:absolute;left:375px;top:268px;width:778px;height:1px;background:#1c2810"></div>
<div style="position:absolute;left:375px;top:281px;width:778px;height:1px;background:#1c2810"></div>
<div style="position:absolute;left:375px;top:268px;width:1px;height:14px;background:#1c2810"></div>
<div style="position:absolute;left:612px;top:269px;width:1px;height:12px;background:#c8a800"></div>
<div style="position:absolute;left:859px;top:518px;width:77px;height:14px;background:#ecc80c"></div>
<div style="position:absolute;left:936px;top:518px;width:54px;height:14px;background:#ffffff"></div>
<div style="position:absolute;left:990px;top:518px;width:23px;height:14px;background:#ecc80c"></div>
<div style="position:absolute;left:1013px;top:518px;width:44px;height:14px;background:#d0283a"></div>
<div style="position:absolute;left:1057px;top:518px;width:22px;height:14px;background:#ecc80c"></div>
<div style="position:absolute;left:859px;top:518px;width:220px;height:14px;border:1px solid #1c2810;box-sizing:border-box"></div>
<div style="position:absolute;left:373px;top:188px;width:2px;height:340px;background:#b0202c"></div>
</div>
<div style="position:absolute;left:1152px;top:132px;width:15px;height:397px;background:#fff"></div>
<svg style="position:absolute;left:1155.5px;top:135px" width="8" height="8" viewBox="0 0 8 8"><path d="M4 0.5V7.5M0.5 4H7.5" stroke="#111" stroke-width="2.4"/></svg>
<div style="position:absolute;left:1153px;top:145px;width:14px;height:1px;background:#c8c8c8"></div>
<div style="position:absolute;left:1155.5px;top:152px;width:8px;height:3px;background:#111"></div>
<div style="position:absolute;left:1153px;top:160px;width:14px;height:1px;background:#c8c8c8"></div>
<svg style="position:absolute;left:1155.5px;top:164px" width="8" height="8" viewBox="0 0 8 8"><circle cx="4" cy="4" r="3.6" fill="#111"/></svg>
<div style="position:absolute;left:1153px;top:174px;width:14px;height:1px;background:#c8c8c8"></div>
<svg style="position:absolute;left:1155.5px;top:178px" width="8" height="8" viewBox="0 0 8 8"><path d="M0 0H8V7L4 3L0 7Z" fill="#111"/></svg>
<div style="position:absolute;left:1153px;top:189px;width:14px;height:1px;background:#c8c8c8"></div>
<svg style="position:absolute;left:1155.5px;top:193px" width="8" height="9" viewBox="0 0 8 9"><path d="M0 0H8V2L5 4V9H3V4L0 2Z" fill="#111"/></svg>
<div style="position:absolute;left:1153px;top:203px;width:14px;height:1px;background:#c8c8c8"></div>
<svg style="position:absolute;left:1155.5px;top:207px" width="8" height="8" viewBox="0 0 8 8"><path d="M0 0H8L4 4.5Z" fill="#111"/><rect x="0" y="6" width="8" height="1.6" fill="#111"/></svg>
<div style="position:absolute;left:1153px;top:218px;width:14px;height:1px;background:#c8c8c8"></div>
<svg style="position:absolute;left:1155.5px;top:222px" width="8" height="8" viewBox="0 0 8 8"><path d="M3.5 0L0 4L3.5 8ZM4.5 0L8 4L4.5 8Z" fill="#111"/></svg>
<div style="position:absolute;left:1153px;top:232px;width:14px;height:1px;background:#c8c8c8"></div>
<svg style="position:absolute;left:1156.5px;top:236px" width="6" height="8" viewBox="0 0 6 8"><path d="M5 0V8L0 4Z" fill="#111"/></svg>
<div style="position:absolute;left:1153px;top:247px;width:14px;height:1px;background:#c8c8c8"></div>
<svg style="position:absolute;left:1157.5px;top:251px" width="6" height="8" viewBox="0 0 6 8"><path d="M0 0V8L5 4Z" fill="#111"/></svg>
<div style="position:absolute;left:1152px;top:261px;width:15px;height:267px;background:#ececec"></div>
<div style="position:absolute;left:1153px;top:278px;width:13px;height:228px;background:#cdcdcd"></div>
<svg style="position:absolute;left:1155px;top:267px" width="9" height="6" viewBox="0 0 9 6"><path d="M0.9 5L4.5 1.3L8.1 5" fill="none" stroke="#4a4a4a" stroke-width="1.9"/></svg>
<svg style="position:absolute;left:1155px;top:517px" width="9" height="6" viewBox="0 0 9 6"><path d="M0.9 1L4.5 4.7L8.1 1" fill="none" stroke="#4a4a4a" stroke-width="1.9"/></svg>
<div style="position:absolute;left:372px;top:528px;width:796px;height:1px;background:#a0a0a0"></div>
<div style="position:absolute;left:1px;top:529px;width:1168px;height:6px;background:#fff"></div>
<div style="position:absolute;left:1px;top:535px;width:366px;height:1px;background:#a0a0a0"></div>
<div style="position:absolute;left:372px;top:535px;width:795px;height:1px;background:#a0a0a0"></div>
<div style="position:absolute;left:0;top:0;width:1152px;height:709px;overflow:hidden">
<div style="position:absolute;left:373px;top:536px;width:779px;height:95px;background:#ffffb0"></div>
<div style="position:absolute;left:373px;top:554px;width:779px;height:1px;background:#a39c4a"></div>
<div style="position:absolute;left:373px;top:573px;width:779px;height:1px;background:#a39c4a"></div>
<div style="position:absolute;left:373px;top:593px;width:779px;height:1px;background:#a39c4a"></div>
<div style="position:absolute;left:373px;top:612px;width:779px;height:1px;background:#a39c4a"></div>
<div style="position:absolute;left:373px;top:631px;width:779px;height:1px;background:#a39c4a"></div>
<div style="position:absolute;left:373px;top:650px;width:779px;height:1px;background:#9c9c9c"></div>
<div style="position:absolute;left:373px;top:670px;width:779px;height:1px;background:#9c9c9c"></div>
<div style="position:absolute;left:373px;top:689px;width:779px;height:1px;background:#9c9c9c"></div>
<div style="position:absolute;left:434px;top:536px;width:1px;height:95px;background:#aaa55a"></div>
<div style="position:absolute;left:434px;top:631px;width:1px;height:78px;background:#9c9c9c"></div>
<div style="position:absolute;left:501px;top:536px;width:1px;height:95px;background:#aaa55a"></div>
<div style="position:absolute;left:501px;top:631px;width:1px;height:78px;background:#9c9c9c"></div>
<div style="position:absolute;left:569px;top:536px;width:1px;height:95px;background:#aaa55a"></div>
<div style="position:absolute;left:569px;top:631px;width:1px;height:78px;background:#9c9c9c"></div>
<div style="position:absolute;left:636px;top:536px;width:1px;height:95px;background:#aaa55a"></div>
<div style="position:absolute;left:636px;top:631px;width:1px;height:78px;background:#9c9c9c"></div>
<div style="position:absolute;left:702px;top:536px;width:1px;height:95px;background:#aaa55a"></div>
<div style="position:absolute;left:702px;top:631px;width:1px;height:78px;background:#9c9c9c"></div>
<div style="position:absolute;left:770px;top:536px;width:1px;height:95px;background:#aaa55a"></div>
<div style="position:absolute;left:770px;top:631px;width:1px;height:78px;background:#9c9c9c"></div>
<div style="position:absolute;left:837px;top:536px;width:1px;height:95px;background:#aaa55a"></div>
<div style="position:absolute;left:837px;top:631px;width:1px;height:78px;background:#9c9c9c"></div>
<div style="position:absolute;left:904px;top:536px;width:1px;height:95px;background:#aaa55a"></div>
<div style="position:absolute;left:904px;top:631px;width:1px;height:78px;background:#9c9c9c"></div>
<div style="position:absolute;left:971px;top:536px;width:1px;height:95px;background:#aaa55a"></div>
<div style="position:absolute;left:971px;top:631px;width:1px;height:78px;background:#9c9c9c"></div>
<div style="position:absolute;left:1038px;top:536px;width:1px;height:95px;background:#aaa55a"></div>
<div style="position:absolute;left:1038px;top:631px;width:1px;height:78px;background:#9c9c9c"></div>
<div style="position:absolute;left:1105px;top:536px;width:1px;height:95px;background:#aaa55a"></div>
<div style="position:absolute;left:1105px;top:631px;width:1px;height:78px;background:#9c9c9c"></div>
<div style="position:absolute;left:470px;top:538px;width:8px;height:14px;background:#80c02a;border:2px solid #13218e;box-sizing:border-box"></div>
<div style="position:absolute;left:520px;top:538px;width:18px;height:14px;background:#80c02a;border:2px solid #13218e;box-sizing:border-box"></div>
<div style="position:absolute;left:583px;top:538px;width:29px;height:14px;background:#80c02a;border:2px solid #c8401a;box-sizing:border-box"></div>
<div style="position:absolute;left:613px;top:538px;width:37px;height:14px;background:#80c02a;border:2px solid #13218e;box-sizing:border-box"></div>
<div style="position:absolute;left:470px;top:557px;width:8px;height:14px;background:#80c02a;border:2px solid #13218e;box-sizing:border-box"></div>
<div style="position:absolute;left:520px;top:576px;width:18px;height:14px;background:#80c02a;border:2px solid #13218e;box-sizing:border-box"></div>
<div style="position:absolute;left:583px;top:596px;width:29px;height:14px;background:#80c02a;border:2px solid #c8401a;box-sizing:border-box"></div>
<div style="position:absolute;left:613px;top:615px;width:37px;height:14px;background:#80c02a;border:2px solid #13218e;box-sizing:border-box"></div>
<div style="position:absolute;left:482px;top:634px;width:22px;height:14px;background:#ee8b22"></div>
<div style="position:absolute;left:504px;top:634px;width:1px;height:14px;background:#f5e070"></div>
<div style="position:absolute;left:505px;top:634px;width:4px;height:14px;background:#80c02a"></div>
<div style="position:absolute;left:482px;top:634px;width:27px;height:14px;border:1px solid #1c2810;box-sizing:border-box"></div>
<div style="position:absolute;left:540px;top:634px;width:4px;height:14px;background:#f5e070"></div>
<div style="position:absolute;left:544px;top:634px;width:32px;height:14px;background:#80c02a"></div>
<div style="position:absolute;left:540px;top:634px;width:36px;height:14px;border:1px solid #1c2810;box-sizing:border-box"></div>
<div style="position:absolute;left:613px;top:634px;width:49px;height:14px;background:#80c02a"></div>
<div style="position:absolute;left:613px;top:634px;width:49px;height:14px;border:1px solid #1c2810;box-sizing:border-box"></div>
<div style="position:absolute;left:669px;top:634px;width:38px;height:14px;background:#80c02a"></div>
<div style="position:absolute;left:669px;top:634px;width:38px;height:14px;border:1px solid #1c2810;box-sizing:border-box"></div>
<div style="position:absolute;left:519px;top:653px;width:6px;height:14px;background:#80c02a"></div>
<div style="position:absolute;left:519px;top:653px;width:6px;height:14px;border:1px solid #1c2810;box-sizing:border-box"></div>
<div style="position:absolute;left:572px;top:653px;width:11px;height:14px;background:#80c02a"></div>
<div style="position:absolute;left:572px;top:653px;width:11px;height:14px;border:1px solid #1c2810;box-sizing:border-box"></div>
<div style="position:absolute;left:603px;top:653px;width:9px;height:14px;background:#80c02a"></div>
<div style="position:absolute;left:603px;top:653px;width:9px;height:14px;border:1px solid #1c2810;box-sizing:border-box"></div>
<div style="position:absolute;left:519px;top:673px;width:8px;height:14px;background:#80c02a"></div>
<div style="position:absolute;left:519px;top:673px;width:8px;height:14px;border:1px solid #1c2810;box-sizing:border-box"></div>
<div style="position:absolute;left:586px;top:673px;width:17px;height:14px;background:#80c02a"></div>
<div style="position:absolute;left:586px;top:673px;width:17px;height:14px;border:1px solid #1c2810;box-sizing:border-box"></div>
<div style="position:absolute;left:662px;top:673px;width:49px;height:14px;background:#80c02a"></div>
<div style="position:absolute;left:662px;top:673px;width:49px;height:14px;border:1px solid #1c2810;box-sizing:border-box"></div>
<div style="position:absolute;left:716px;top:673px;width:12px;height:14px;background:#80c02a"></div>
<div style="position:absolute;left:716px;top:673px;width:12px;height:14px;border:1px solid #1c2810;box-sizing:border-box"></div>
<div style="position:absolute;left:545px;top:692px;width:3px;height:14px;background:#80c02a"></div>
<div style="position:absolute;left:545px;top:692px;width:3px;height:14px;border:1px solid #1c2810;box-sizing:border-box"></div>
<div style="position:absolute;left:616px;top:692px;width:36px;height:14px;background:#80c02a"></div>
<div style="position:absolute;left:616px;top:692px;width:36px;height:14px;border:1px solid #1c2810;box-sizing:border-box"></div>
<div style="position:absolute;left:711px;top:692px;width:30px;height:14px;background:#80c02a"></div>
<div style="position:absolute;left:711px;top:692px;width:30px;height:14px;border:1px solid #1c2810;box-sizing:border-box"></div>
<div style="position:absolute;left:746px;top:692px;width:37px;height:14px;background:#80c02a"></div>
<div style="position:absolute;left:746px;top:692px;width:37px;height:14px;border:1px solid #1c2810;box-sizing:border-box"></div>
<div style="position:absolute;left:509px;top:653px;width:1px;height:14px;background:#222"></div>
<div style="position:absolute;left:373px;top:536px;width:2px;height:172px;background:#b0202c"></div>
</div>
<div style="position:absolute;left:1152px;top:536px;width:15px;height:173px;background:#fff"></div>
<svg style="position:absolute;left:1155.5px;top:540px" width="8" height="8" viewBox="0 0 8 8"><path d="M3.5 0L0 4L3.5 8ZM4.5 0L8 4L4.5 8Z" fill="#111"/></svg>
<div style="position:absolute;left:1153px;top:550px;width:14px;height:1px;background:#c8c8c8"></div>
<svg style="position:absolute;left:1156.5px;top:554px" width="6" height="8" viewBox="0 0 6 8"><path d="M5 0V8L0 4Z" fill="#111"/></svg>
<div style="position:absolute;left:1153px;top:565px;width:14px;height:1px;background:#c8c8c8"></div>
<svg style="position:absolute;left:1157.5px;top:568px" width="6" height="8" viewBox="0 0 6 8"><path d="M0 0V8L5 4Z" fill="#111"/></svg>
<div style="position:absolute;left:1153px;top:579px;width:14px;height:1px;background:#c8c8c8"></div>
<div style="position:absolute;left:1152px;top:579px;width:15px;height:130px;background:#ececec"></div>
<div style="position:absolute;left:1153px;top:620px;width:13px;height:42px;background:#cdcdcd"></div>
<svg style="position:absolute;left:1155px;top:586px" width="9" height="6" viewBox="0 0 9 6"><path d="M0.9 5L4.5 1.3L8.1 5" fill="none" stroke="#4a4a4a" stroke-width="1.9"/></svg>
<svg style="position:absolute;left:1155px;top:698px" width="9" height="6" viewBox="0 0 9 6"><path d="M0.9 1L4.5 4.7L8.1 1" fill="none" stroke="#4a4a4a" stroke-width="1.9"/></svg>
<div style="position:absolute;left:372px;top:709px;width:796px;height:16px;background:#ececec"></div>
<div style="position:absolute;left:373px;top:709px;width:33px;height:16px;background:#fff"></div>
<div style="position:absolute;left:389px;top:711px;width:1px;height:13px;background:#d0d0d0"></div>
<div style="position:absolute;left:406px;top:711px;width:1px;height:13px;background:#d0d0d0"></div>
<svg style="position:absolute;left:377px;top:712px" width="8" height="8" viewBox="0 0 8 8"><rect x="0" y="0" width="8" height="1.8" fill="#111"/><rect x="0" y="3.1" width="8" height="1.8" fill="#111"/><rect x="0" y="6.2" width="8" height="1.8" fill="#111"/></svg>
<div style="position:absolute;left:394px;top:712px;width:8px;height:8px;background:#111"></div>
<svg style="position:absolute;left:412px;top:712.5px" width="7" height="8" viewBox="0 0 7 8"><path d="M5.6 0.9L1.6 4L5.6 7.1" fill="none" stroke="#4a4a4a" stroke-width="2"/></svg>
<div style="position:absolute;left:424px;top:710px;width:268px;height:14px;background:#cdcdcd"></div>
<svg style="position:absolute;left:1141px;top:712.5px" width="7" height="8" viewBox="0 0 7 8"><path d="M1.4 0.9L5.4 4L1.4 7.1" fill="none" stroke="#4a4a4a" stroke-width="2"/></svg>
<div style="position:absolute;left:1152px;top:709px;width:15px;height:16px;background:#fff"></div>
<svg style="position:absolute;left:1155px;top:712px" width="10" height="10" viewBox="0 0 10 10"><rect x="0" y="0" width="10" height="2.4" fill="#111"/><path d="M0 9.8L5 3.6L10 9.8H7.2L5 7.2L2.8 9.8Z" fill="#111"/></svg>
<div style="position:absolute;left:2px;top:725px;width:1166px;height:1px;background:#8e8e8a"></div>
<div style="position:absolute;left:2px;top:726px;width:1166px;height:1px;background:#cfcfca"></div>
<div style="position:absolute;left:2px;top:727px;width:1166px;height:20px;background:#fdfdf9"></div>
<div style="position:absolute;left:2px;top:746px;width:1166px;height:2px;background:#e2e6e6"></div>
<div class="t" style="left:750.3px;top:734px;font-size:10px;color:#333;letter-spacing:0.4px">29.09.17 19:16</div>
<div style="position:absolute;left:832px;top:730px;width:1px;height:15px;background:#b0b0b0"></div>
<div class="t" style="left:843.2px;top:734px;font-size:10px;color:#d23f4f;letter-spacing:0.1px">Demo license!</div>
<div style="position:absolute;left:917px;top:730px;width:1px;height:15px;background:#b0b0b0"></div>
<div class="t" style="left:928px;top:734px;font-size:10px;color:#333;">Simulation</div>
<div class="t" style="left:980.8px;top:734px;font-size:10px;color:#333;letter-spacing:-0.15px">20170807093318</div>
<div style="position:absolute;left:1071px;top:730px;width:1px;height:15px;background:#b0b0b0"></div>
<div class="t" style="left:1082px;top:734px;font-size:10px;color:#333;letter-spacing:0.2px">Zeilen: 18/20</div>
<svg style="position:absolute;left:1161px;top:739px" width="6" height="6" viewBox="0 0 6 6"><rect x="4" y="0" width="1" height="1" fill="#999"/><rect x="2" y="2" width="1" height="1" fill="#999"/><rect x="4" y="2" width="1" height="1" fill="#999"/><rect x="0" y="4" width="1" height="1" fill="#999"/><rect x="2" y="4" width="1" height="1" fill="#999"/><rect x="4" y="4" width="1" height="1" fill="#999"/></svg>
<div style="position:absolute;left:0px;top:0px;width:1170px;height:1px;background:#4a7892"></div>
<div style="position:absolute;left:0px;top:0px;width:1px;height:749px;background:linear-gradient(#4a7590,#41729f)"></div>
<div style="position:absolute;left:1px;top:0px;width:1px;height:749px;background:linear-gradient(rgba(65,114,159,0.05),rgba(65,114,159,0.75))"></div>
<div style="position:absolute;left:1169px;top:0px;width:1px;height:749px;background:linear-gradient(#4a7590,#41729f)"></div>
<div style="position:absolute;left:1168px;top:0px;width:1px;height:749px;background:linear-gradient(rgba(65,114,159,0.1),rgba(65,114,159,0.7))"></div>
<div style="position:absolute;left:0px;top:748px;width:1170px;height:1px;background:#3a78a8"></div>
</body></html>
